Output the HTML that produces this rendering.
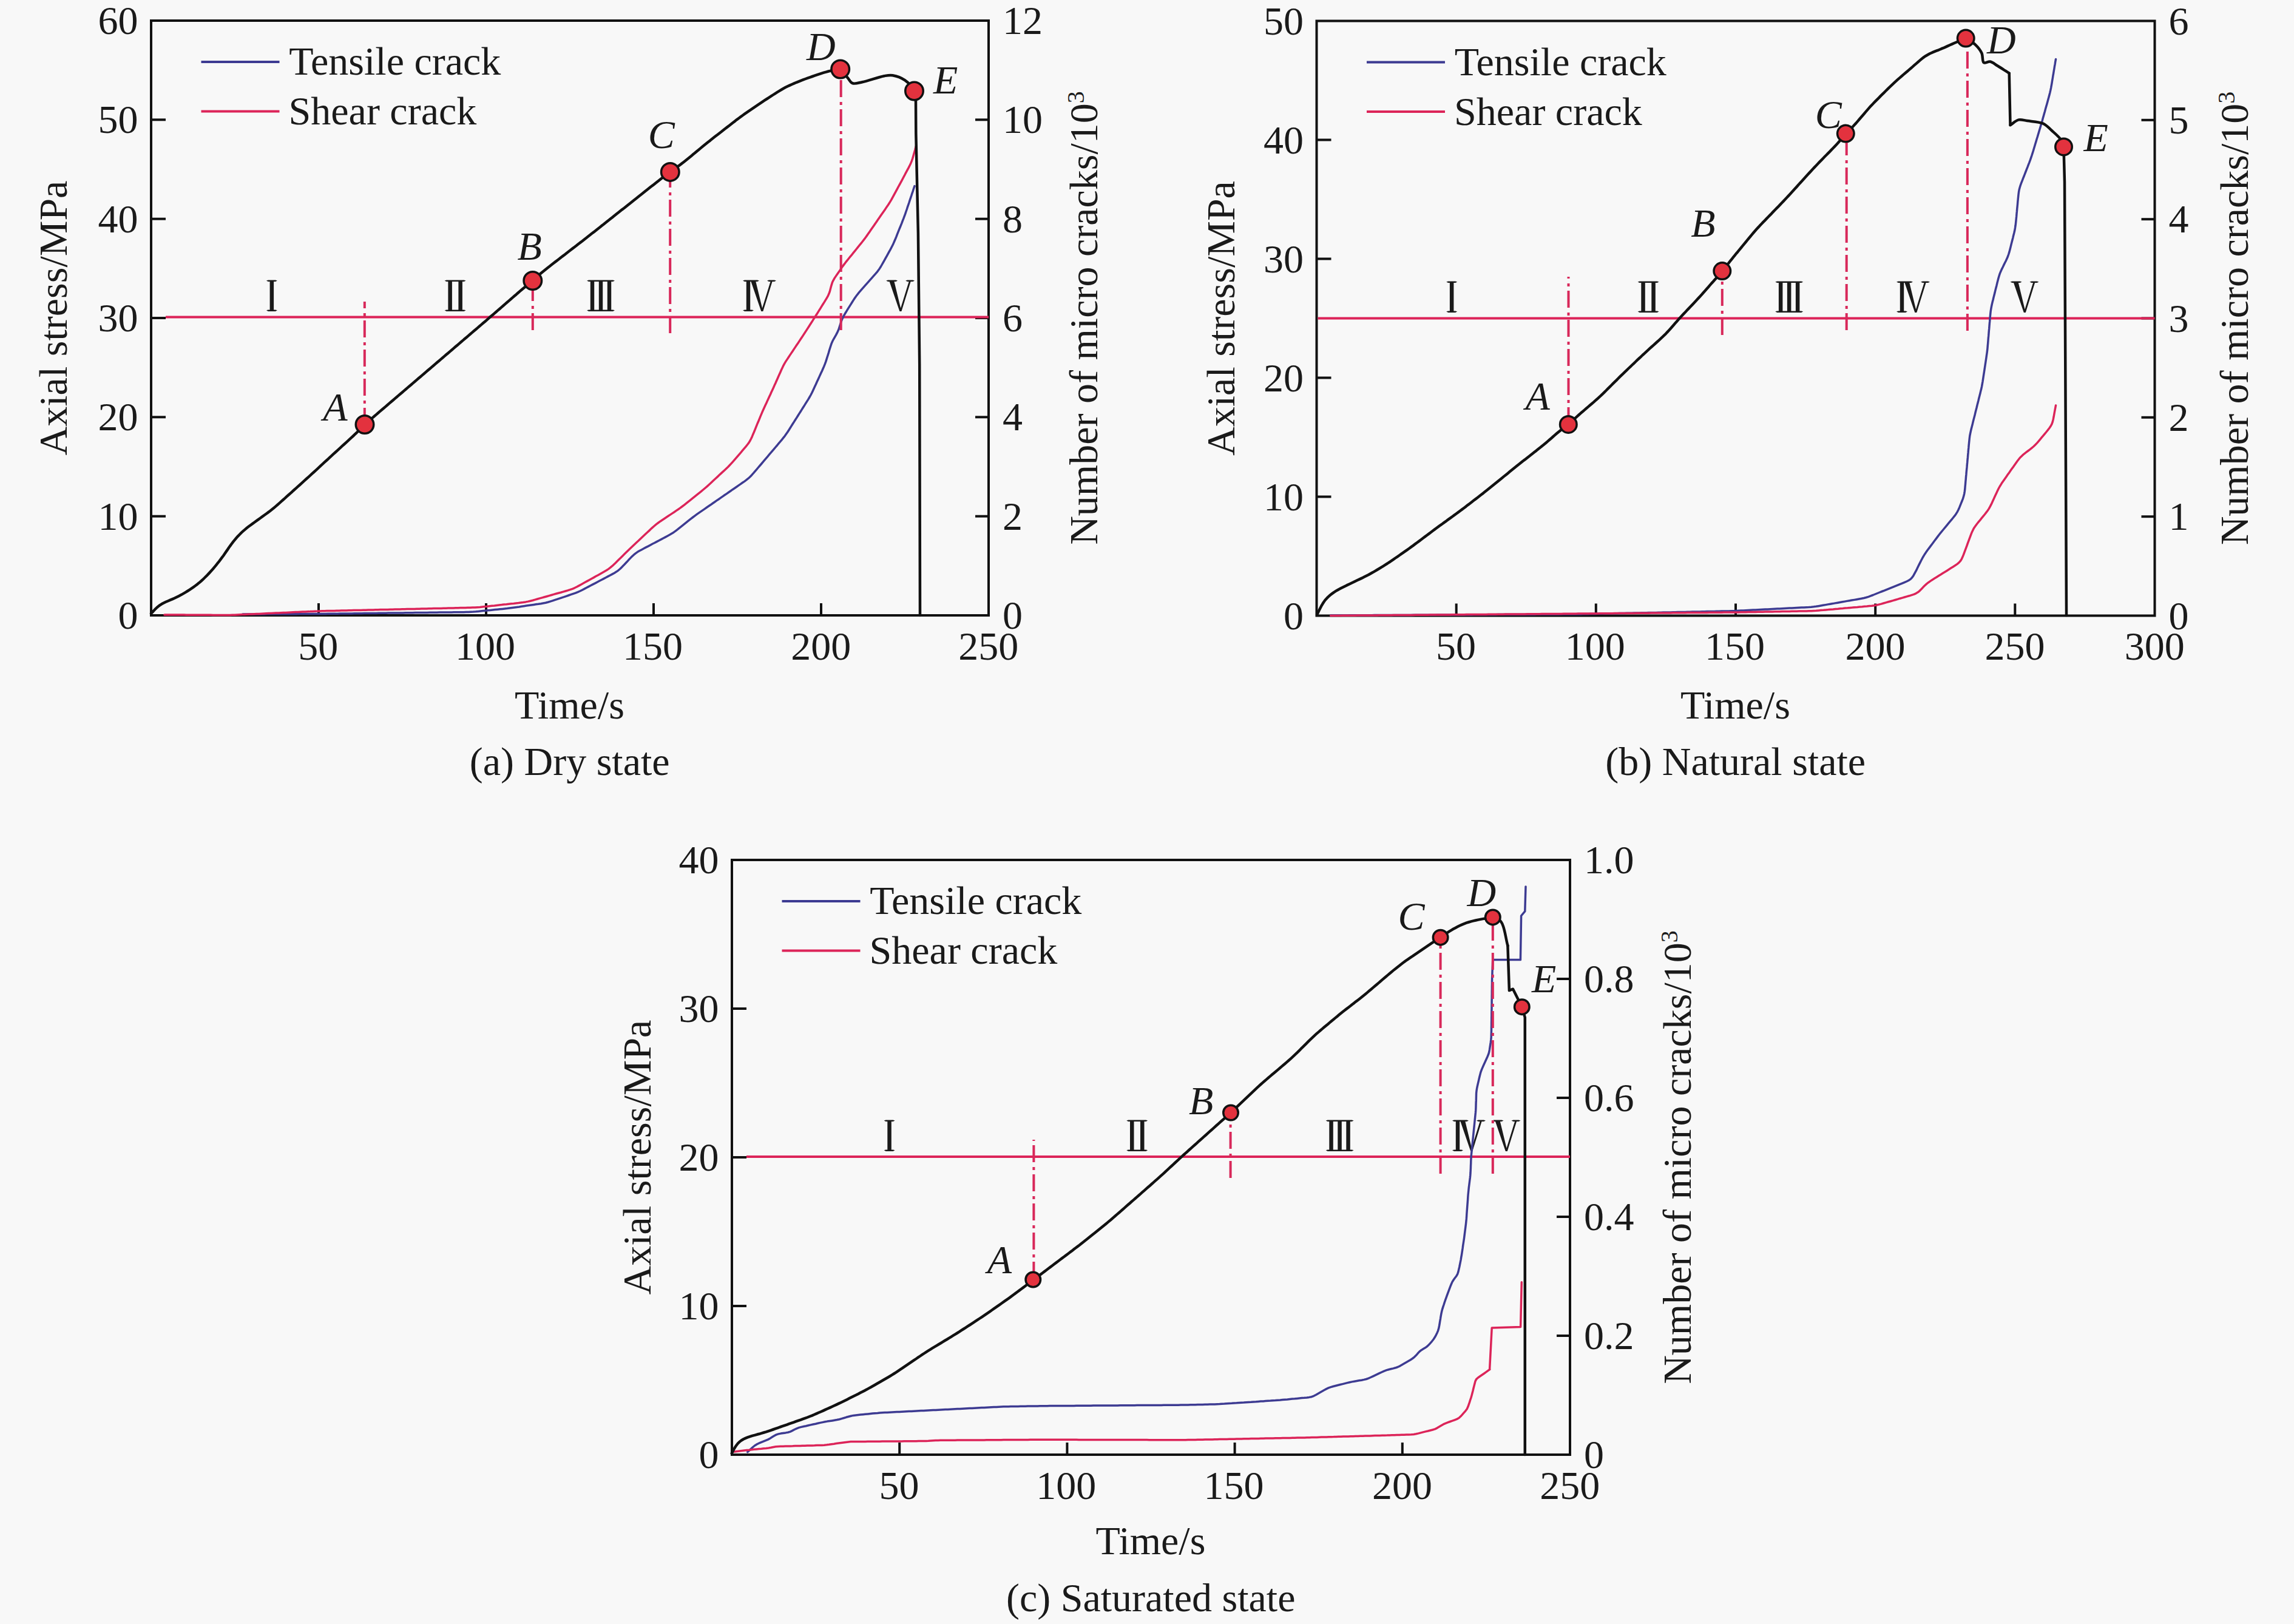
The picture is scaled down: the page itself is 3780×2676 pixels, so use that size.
<!DOCTYPE html><html><head><meta charset="utf-8"><style>html,body{margin:0;padding:0;background:#f8f8f8;}svg{display:block}text{font-family:"Liberation Serif",serif;fill:#1a1a1a}</style></head><body>
<svg width="3780" height="2676" viewBox="0 0 3780 2676">
<rect width="3780" height="2676" fill="#f8f8f8"/>
<rect x="249" y="34" width="1380" height="980" fill="none" stroke="#111111" stroke-width="4"/>
<text x="194.5" y="1036.0" font-size="66" text-anchor="start">0</text>
<line x1="249" y1="850.7" x2="273" y2="850.7" stroke="#111111" stroke-width="4"/>
<text x="161.5" y="872.7" font-size="66" text-anchor="start">10</text>
<line x1="249" y1="687.3" x2="273" y2="687.3" stroke="#111111" stroke-width="4"/>
<text x="161.5" y="709.3" font-size="66" text-anchor="start">20</text>
<line x1="249" y1="524.0" x2="273" y2="524.0" stroke="#111111" stroke-width="4"/>
<text x="161.5" y="546.0" font-size="66" text-anchor="start">30</text>
<line x1="249" y1="360.7" x2="273" y2="360.7" stroke="#111111" stroke-width="4"/>
<text x="161.5" y="382.7" font-size="66" text-anchor="start">40</text>
<line x1="249" y1="197.3" x2="273" y2="197.3" stroke="#111111" stroke-width="4"/>
<text x="161.5" y="219.3" font-size="66" text-anchor="start">50</text>
<text x="161.5" y="56.0" font-size="66" text-anchor="start">60</text>
<text x="1652.0" y="1036.0" font-size="66" text-anchor="start">0</text>
<line x1="1629" y1="850.7" x2="1607" y2="850.7" stroke="#111111" stroke-width="4"/>
<text x="1652.0" y="872.7" font-size="66" text-anchor="start">2</text>
<line x1="1629" y1="687.3" x2="1607" y2="687.3" stroke="#111111" stroke-width="4"/>
<text x="1652.0" y="709.3" font-size="66" text-anchor="start">4</text>
<line x1="1629" y1="524.0" x2="1607" y2="524.0" stroke="#111111" stroke-width="4"/>
<text x="1652.0" y="546.0" font-size="66" text-anchor="start">6</text>
<line x1="1629" y1="360.7" x2="1607" y2="360.7" stroke="#111111" stroke-width="4"/>
<text x="1652.0" y="382.7" font-size="66" text-anchor="start">8</text>
<line x1="1629" y1="197.3" x2="1607" y2="197.3" stroke="#111111" stroke-width="4"/>
<text x="1652.0" y="219.3" font-size="66" text-anchor="start">10</text>
<text x="1652.0" y="56.0" font-size="66" text-anchor="start">12</text>
<line x1="525.0" y1="1014" x2="525.0" y2="994" stroke="#111111" stroke-width="4"/>
<text x="491.3" y="1086.5" font-size="66" text-anchor="start">50</text>
<line x1="801.0" y1="1014" x2="801.0" y2="994" stroke="#111111" stroke-width="4"/>
<text x="749.9" y="1086.5" font-size="66" text-anchor="start">100</text>
<line x1="1077.0" y1="1014" x2="1077.0" y2="994" stroke="#111111" stroke-width="4"/>
<text x="1025.9" y="1086.5" font-size="66" text-anchor="start">150</text>
<line x1="1353.0" y1="1014" x2="1353.0" y2="994" stroke="#111111" stroke-width="4"/>
<text x="1303.3" y="1086.5" font-size="66" text-anchor="start">200</text>
<text x="1579.3" y="1086.5" font-size="66" text-anchor="start">250</text>
<text x="847.9" y="1183.5" font-size="66" text-anchor="start">Time/s</text>
<text x="773.8" y="1277.2" font-size="66" text-anchor="start">(a) Dry state</text>
<text transform="translate(110.0,524.0) rotate(-90)" x="0" y="0" font-size="66" text-anchor="middle">Axial stress/MPa</text>
<text transform="translate(1807.7,524.0) rotate(-90)" x="0" y="0" font-size="66" text-anchor="middle">Number of micro cracks/10<tspan font-size="40" dy="-22">3</tspan></text>
<line x1="331.5" y1="102" x2="460.5" y2="102" stroke="#3d3b92" stroke-width="4"/>
<line x1="331.5" y1="183.5" x2="460.5" y2="183.5" stroke="#dc2459" stroke-width="4"/>
<text x="476.3" y="123.0" font-size="66" text-anchor="start">Tensile crack</text>
<text x="475.6" y="205.0" font-size="66" text-anchor="start">Shear crack</text>
<line x1="273" y1="522.5" x2="1629" y2="522.5" stroke="#dc2459" stroke-width="4"/>
<path d="M444.6,464.1H451.1V510.4H444.6ZM438.9,462.4L441.9,461.5H453.9L456.9,462.4L453.9,464.1H441.9ZM438.9,511.3L441.9,510.4H453.9L456.9,511.3L453.9,513.0H441.9Z" fill="#1a1a1a"/>
<path d="M738.4,464.1H744.9V510.4H738.4ZM755.4,464.1H761.9V510.4H755.4ZM732.6,462.4L735.6,461.5H764.6L767.6,462.4L764.6,464.1H735.6ZM732.6,511.3L735.6,510.4H764.6L767.6,511.3L764.6,513.0H735.6Z" fill="#1a1a1a"/>
<path d="M972.8,464.1H979.2V510.4H972.8ZM986.8,464.1H993.2V510.4H986.8ZM1000.8,464.1H1007.2V510.4H1000.8ZM967.0,462.4L970.0,461.5H1010.0L1013.0,462.4L1010.0,464.1H970.0ZM967.0,511.3L970.0,510.4H1010.0L1013.0,511.3L1010.0,513.0H970.0Z" fill="#1a1a1a"/>
<path d="M1229.8,464.1H1236.2V510.4H1229.8ZM1224.0,511.3L1227.0,510.4H1239.0L1242.0,511.3L1239.0,513.0H1227.0ZM1224.0,462.4L1227.0,461.5H1239.0L1242.0,462.4L1239.0,464.1H1227.0ZM1237.0,462.5L1245.0,462.5L1257.3,513.0L1254.3,513.0ZM1270.0,462.5L1273.0,462.5L1257.3,513.0L1255.3,510.0ZM1232.0,462.4L1235.0,461.5H1248.0L1251.0,462.4L1248.0,464.1H1235.0ZM1264.0,462.4L1267.0,461.5H1276.0L1279.0,462.4L1276.0,464.1H1267.0Z" fill="#1a1a1a"/>
<path d="M1465.1,462.5L1473.1,462.5L1485.4,513.0L1482.4,513.0ZM1498.1,462.5L1501.1,462.5L1485.4,513.0L1483.4,510.0ZM1460.1,462.4L1463.1,461.5H1476.1L1479.1,462.4L1476.1,464.1H1463.1ZM1492.1,462.4L1495.1,461.5H1504.1L1507.1,462.4L1504.1,464.1H1495.1Z" fill="#1a1a1a"/>
<path d="M400.0,1012.0 L404.0,1012.0 L408.0,1012.0 L412.0,1012.0 L416.0,1011.9 L420.0,1011.9 L424.0,1011.9 L428.0,1011.9 L432.0,1011.9 L436.0,1011.9 L440.0,1011.8 L444.0,1011.8 L448.0,1011.8 L452.0,1011.8 L456.0,1011.8 L460.0,1011.8 L464.0,1011.7 L468.0,1011.7 L472.0,1011.7 L476.0,1011.7 L480.0,1011.7 L484.0,1011.7 L488.0,1011.7 L492.0,1011.6 L496.0,1011.6 L500.0,1011.6 L504.0,1011.6 L508.0,1011.6 L512.0,1011.6 L516.0,1011.5 L520.0,1011.5 L524.0,1011.5 L528.0,1011.5 L532.0,1011.4 L536.0,1011.4 L540.0,1011.3 L544.0,1011.3 L548.0,1011.2 L552.0,1011.2 L556.0,1011.2 L560.0,1011.1 L564.0,1011.1 L568.0,1011.0 L572.0,1011.0 L576.0,1010.9 L580.0,1010.9 L584.0,1010.8 L588.0,1010.8 L592.0,1010.7 L596.0,1010.7 L600.0,1010.6 L604.0,1010.6 L608.0,1010.5 L612.0,1010.5 L616.0,1010.4 L620.0,1010.4 L624.0,1010.3 L628.0,1010.3 L632.0,1010.2 L636.0,1010.2 L640.0,1010.1 L644.0,1010.1 L648.0,1010.0 L652.0,1010.0 L656.0,1010.0 L660.0,1009.9 L664.0,1009.9 L668.0,1009.8 L672.0,1009.8 L676.0,1009.7 L680.0,1009.7 L684.0,1009.6 L688.0,1009.6 L692.0,1009.5 L696.0,1009.5 L700.0,1009.4 L704.0,1009.4 L708.0,1009.3 L712.0,1009.3 L716.0,1009.2 L720.0,1009.2 L724.0,1009.1 L728.0,1009.1 L732.0,1009.0 L736.0,1009.0 L740.0,1008.9 L744.0,1008.9 L748.0,1008.8 L752.0,1008.8 L756.0,1008.8 L760.0,1008.7 L764.0,1008.7 L768.0,1008.6 L772.0,1008.5 L776.0,1008.3 L780.0,1008.1 L783.9,1007.8 L787.9,1007.4 L791.9,1007.0 L795.9,1006.6 L799.9,1006.2 L803.8,1005.8 L807.8,1005.4 L811.8,1005.0 L815.8,1004.6 L819.8,1004.2 L823.7,1003.8 L827.7,1003.4 L831.7,1003.0 L835.7,1002.6 L839.7,1002.1 L843.6,1001.6 L847.6,1001.0 L851.5,1000.4 L855.5,999.9 L859.5,999.3 L863.4,998.7 L867.4,998.1 L871.3,997.6 L875.3,997.0 L879.2,996.4 L883.2,995.8 L887.2,995.3 L891.1,994.7 L895.0,994.0 L899.0,993.2 L902.8,992.2 L906.6,991.1 L910.5,989.9 L914.2,988.6 L918.0,987.4 L921.8,986.1 L925.6,984.8 L929.4,983.6 L933.2,982.3 L937.0,981.0 L940.8,979.7 L944.6,978.4 L948.3,977.1 L952.0,975.6 L955.7,974.0 L959.3,972.2 L962.8,970.4 L966.3,968.5 L969.9,966.6 L973.4,964.8 L977.0,962.9 L980.5,961.1 L984.0,959.2 L987.6,957.3 L991.1,955.5 L994.7,953.6 L998.2,951.7 L1001.7,949.9 L1005.3,948.0 L1008.8,946.1 L1012.3,944.2 L1015.7,942.1 L1018.9,939.8 L1021.9,937.2 L1024.7,934.4 L1027.5,931.6 L1030.2,928.7 L1033.0,925.8 L1035.7,922.8 L1038.5,919.9 L1041.3,917.1 L1044.1,914.4 L1047.2,911.9 L1050.4,909.6 L1053.9,907.6 L1057.4,905.7 L1060.9,903.8 L1064.4,901.9 L1068.0,900.1 L1071.5,898.2 L1075.0,896.3 L1078.6,894.5 L1082.1,892.6 L1085.7,890.7 L1089.2,888.9 L1092.7,887.0 L1096.3,885.1 L1099.8,883.2 L1103.3,881.3 L1106.7,879.3 L1110.1,877.2 L1113.3,874.8 L1116.5,872.4 L1119.6,869.9 L1122.8,867.4 L1125.9,864.9 L1129.0,862.4 L1132.1,859.9 L1135.2,857.4 L1138.4,854.9 L1141.5,852.5 L1144.7,850.1 L1148.0,847.7 L1151.2,845.4 L1154.5,843.1 L1157.8,840.9 L1161.1,838.6 L1164.4,836.3 L1167.7,834.0 L1171.0,831.8 L1174.2,829.5 L1177.5,827.2 L1180.8,824.9 L1184.1,822.7 L1187.4,820.4 L1190.7,818.1 L1194.0,815.8 L1197.3,813.6 L1200.6,811.3 L1203.9,809.0 L1207.1,806.7 L1210.4,804.5 L1213.7,802.2 L1217.0,799.9 L1220.3,797.6 L1223.6,795.3 L1226.9,793.1 L1230.1,790.7 L1233.2,788.2 L1236.1,785.5 L1238.8,782.7 L1241.5,779.7 L1244.1,776.6 L1246.7,773.6 L1249.3,770.5 L1251.9,767.5 L1254.5,764.5 L1257.1,761.4 L1259.6,758.4 L1262.2,755.3 L1264.8,752.3 L1267.4,749.2 L1270.0,746.2 L1272.6,743.1 L1275.2,740.1 L1277.8,737.0 L1280.4,734.0 L1282.9,730.9 L1285.5,727.9 L1288.1,724.8 L1290.6,721.7 L1293.1,718.6 L1295.4,715.3 L1297.7,712.0 L1299.8,708.7 L1302.0,705.3 L1304.1,701.9 L1306.2,698.5 L1308.4,695.1 L1310.5,691.8 L1312.7,688.4 L1314.8,685.0 L1316.9,681.6 L1319.1,678.2 L1321.2,674.9 L1323.3,671.5 L1325.5,668.1 L1327.6,664.7 L1329.7,661.3 L1331.9,657.9 L1333.9,654.5 L1335.9,651.0 L1337.7,647.5 L1339.4,643.9 L1341.1,640.2 L1342.8,636.6 L1344.5,633.0 L1346.1,629.3 L1347.8,625.7 L1349.5,622.1 L1351.1,618.4 L1352.8,614.8 L1354.5,611.2 L1356.1,607.5 L1357.7,603.9 L1359.2,600.2 L1360.6,596.4 L1361.8,592.6 L1363.0,588.8 L1364.2,585.0 L1365.4,581.2 L1366.5,577.3 L1367.7,573.5 L1368.9,569.7 L1370.2,565.9 L1371.8,562.3 L1373.6,558.8 L1375.6,555.3 L1377.6,551.9 L1379.4,548.4 L1381.1,544.8 L1382.5,541.1 L1383.7,537.3 L1384.9,533.5 L1386.2,529.7 L1387.6,526.0 L1389.3,522.4 L1391.2,518.9 L1393.2,515.5 L1395.3,512.1 L1397.4,508.7 L1399.5,505.3 L1401.7,501.9 L1403.8,498.5 L1405.9,495.1 L1408.1,491.8 L1410.4,488.5 L1412.8,485.3 L1415.3,482.2 L1417.9,479.2 L1420.5,476.2 L1423.2,473.2 L1425.8,470.2 L1428.5,467.2 L1431.2,464.2 L1433.8,461.2 L1436.5,458.2 L1439.1,455.2 L1441.8,452.2 L1444.4,449.2 L1446.8,446.1 L1449.1,442.9 L1451.3,439.5 L1453.3,436.0 L1455.2,432.6 L1457.2,429.1 L1459.1,425.6 L1461.1,422.1 L1463.0,418.6 L1464.9,415.1 L1466.9,411.6 L1468.8,408.0 L1470.6,404.5 L1472.3,400.9 L1473.9,397.2 L1475.5,393.5 L1477.0,389.8 L1478.4,386.1 L1479.9,382.4 L1481.4,378.7 L1482.9,375.0 L1484.4,371.3 L1485.9,367.6 L1487.3,363.8 L1488.8,360.1 L1490.2,356.4 L1491.6,352.6 L1492.9,348.8 L1494.2,345.0 L1495.4,341.2 L1496.7,337.5 L1498.0,333.7 L1499.2,329.9 L1500.5,326.1 L1501.8,322.3 L1503.0,318.5 L1504.3,314.8 L1505.4,311.3 L1506.5,308.1 L1507.0,306.6" fill="none" stroke="#3d3b92" stroke-width="3.5" stroke-linejoin="round" stroke-linecap="round"/>
<path d="M271.0,1013.0 L275.0,1013.0 L279.0,1013.0 L283.0,1013.1 L287.0,1013.1 L291.0,1013.1 L295.0,1013.1 L299.0,1013.1 L303.0,1013.1 L307.0,1013.2 L311.0,1013.2 L315.0,1013.2 L319.0,1013.2 L323.0,1013.2 L327.0,1013.3 L331.0,1013.3 L335.0,1013.3 L339.0,1013.3 L343.0,1013.3 L347.0,1013.3 L351.0,1013.4 L355.0,1013.4 L359.0,1013.4 L363.0,1013.4 L367.0,1013.4 L371.0,1013.4 L375.0,1013.4 L379.0,1013.4 L383.0,1013.3 L387.0,1013.2 L391.0,1013.0 L395.0,1012.8 L399.0,1012.6 L403.0,1012.5 L407.0,1012.3 L411.0,1012.1 L415.0,1011.9 L419.0,1011.7 L423.0,1011.5 L427.0,1011.4 L430.9,1011.2 L434.9,1011.0 L438.9,1010.8 L442.9,1010.6 L446.9,1010.5 L450.9,1010.3 L454.9,1010.1 L458.9,1009.9 L462.9,1009.7 L466.9,1009.5 L470.9,1009.4 L474.9,1009.2 L478.9,1009.0 L482.9,1008.8 L486.9,1008.6 L490.9,1008.5 L494.9,1008.3 L498.9,1008.1 L502.9,1007.9 L506.9,1007.7 L510.9,1007.6 L514.9,1007.4 L518.9,1007.2 L522.9,1007.1 L526.9,1006.9 L530.8,1006.8 L534.8,1006.7 L538.8,1006.6 L542.8,1006.5 L546.8,1006.5 L550.8,1006.4 L554.8,1006.3 L558.8,1006.2 L562.8,1006.1 L566.8,1006.0 L570.8,1005.9 L574.8,1005.8 L578.8,1005.7 L582.8,1005.6 L586.8,1005.5 L590.8,1005.5 L594.8,1005.4 L598.8,1005.3 L602.8,1005.2 L606.8,1005.1 L610.8,1005.0 L614.8,1004.9 L618.8,1004.8 L622.8,1004.7 L626.8,1004.6 L630.8,1004.5 L634.8,1004.4 L638.8,1004.4 L642.8,1004.3 L646.8,1004.2 L650.8,1004.1 L654.8,1004.0 L658.8,1003.9 L662.8,1003.8 L666.8,1003.7 L670.8,1003.6 L674.8,1003.5 L678.8,1003.4 L682.8,1003.4 L686.8,1003.3 L690.8,1003.2 L694.8,1003.1 L698.8,1003.0 L702.8,1002.9 L706.8,1002.8 L710.8,1002.7 L714.8,1002.6 L718.8,1002.5 L722.8,1002.4 L726.8,1002.4 L730.8,1002.3 L734.8,1002.2 L738.8,1002.1 L742.8,1002.0 L746.8,1001.9 L750.8,1001.8 L754.8,1001.7 L758.8,1001.6 L762.8,1001.5 L766.8,1001.4 L770.8,1001.3 L774.8,1001.2 L778.8,1001.1 L782.8,1001.0 L786.8,1000.7 L790.8,1000.4 L794.7,1000.0 L798.7,999.6 L802.7,999.2 L806.7,998.7 L810.6,998.3 L814.6,997.9 L818.6,997.4 L822.6,997.0 L826.5,996.6 L830.5,996.1 L834.5,995.7 L838.5,995.2 L842.4,994.8 L846.4,994.4 L850.4,993.9 L854.4,993.5 L858.3,993.0 L862.3,992.5 L866.2,991.9 L870.2,991.1 L874.0,990.2 L877.9,989.2 L881.8,988.1 L885.6,987.0 L889.5,985.9 L893.3,984.9 L897.2,983.8 L901.0,982.7 L904.8,981.6 L908.7,980.5 L912.5,979.4 L916.4,978.3 L920.2,977.2 L924.1,976.2 L927.9,975.1 L931.8,974.0 L935.6,972.9 L939.4,971.7 L943.2,970.3 L946.8,968.8 L950.4,967.0 L953.9,965.1 L957.4,963.2 L960.9,961.3 L964.4,959.3 L967.9,957.4 L971.4,955.4 L974.9,953.5 L978.4,951.6 L981.9,949.6 L985.4,947.7 L988.9,945.7 L992.4,943.8 L995.9,941.8 L999.3,939.8 L1002.6,937.6 L1005.8,935.2 L1008.8,932.7 L1011.7,929.9 L1014.6,927.2 L1017.5,924.3 L1020.3,921.5 L1023.2,918.7 L1026.0,915.9 L1028.9,913.1 L1031.7,910.3 L1034.6,907.5 L1037.4,904.7 L1040.3,902.0 L1043.2,899.2 L1046.1,896.4 L1049.0,893.7 L1052.0,891.0 L1054.9,888.2 L1057.8,885.5 L1060.7,882.8 L1063.6,880.0 L1066.6,877.3 L1069.5,874.6 L1072.4,871.8 L1075.3,869.1 L1078.3,866.5 L1081.4,863.9 L1084.6,861.5 L1087.8,859.2 L1091.1,857.0 L1094.5,854.7 L1097.8,852.5 L1101.1,850.3 L1104.4,848.1 L1107.8,845.9 L1111.1,843.7 L1114.4,841.4 L1117.7,839.2 L1121.0,836.9 L1124.2,834.5 L1127.4,832.1 L1130.5,829.6 L1133.6,827.1 L1136.8,824.6 L1139.9,822.1 L1143.0,819.6 L1146.1,817.1 L1149.2,814.6 L1152.4,812.1 L1155.5,809.6 L1158.6,807.0 L1161.6,804.5 L1164.7,801.9 L1167.6,799.2 L1170.6,796.5 L1173.5,793.7 L1176.4,791.0 L1179.4,788.3 L1182.3,785.6 L1185.2,782.8 L1188.1,780.1 L1191.1,777.4 L1194.0,774.7 L1196.9,771.9 L1199.8,769.2 L1202.6,766.3 L1205.3,763.4 L1208.0,760.4 L1210.6,757.4 L1213.2,754.4 L1215.8,751.3 L1218.4,748.3 L1221.0,745.3 L1223.6,742.2 L1226.2,739.2 L1228.8,736.1 L1231.3,733.0 L1233.7,729.9 L1235.8,726.5 L1237.6,723.0 L1239.3,719.4 L1240.8,715.7 L1242.4,712.0 L1243.9,708.3 L1245.4,704.6 L1246.9,700.9 L1248.4,697.2 L1250.0,693.5 L1251.5,689.8 L1253.0,686.1 L1254.6,682.4 L1256.1,678.8 L1257.8,675.1 L1259.4,671.5 L1261.1,667.8 L1262.8,664.2 L1264.4,660.6 L1266.1,656.9 L1267.8,653.3 L1269.5,649.7 L1271.1,646.0 L1272.8,642.4 L1274.5,638.8 L1276.1,635.1 L1277.8,631.5 L1279.4,627.8 L1281.0,624.2 L1282.6,620.5 L1284.3,616.8 L1285.9,613.2 L1287.5,609.5 L1289.2,605.9 L1290.9,602.3 L1292.8,598.8 L1294.9,595.4 L1297.1,592.1 L1299.3,588.7 L1301.5,585.4 L1303.7,582.1 L1306.0,578.8 L1308.2,575.4 L1310.4,572.1 L1312.6,568.8 L1314.9,565.5 L1317.1,562.1 L1319.3,558.8 L1321.5,555.5 L1323.7,552.1 L1325.9,548.8 L1328.1,545.4 L1330.2,542.1 L1332.4,538.7 L1334.6,535.3 L1336.7,532.0 L1338.9,528.6 L1341.0,525.2 L1343.2,521.9 L1345.3,518.5 L1347.5,515.1 L1349.6,511.7 L1351.7,508.3 L1353.8,504.9 L1355.9,501.5 L1358.1,498.1 L1360.2,494.7 L1362.2,491.3 L1364.2,487.9 L1365.8,484.3 L1367.2,480.6 L1368.2,476.7 L1369.2,472.9 L1370.3,469.1 L1371.5,465.3 L1373.2,461.8 L1375.1,458.4 L1377.3,455.1 L1379.6,451.8 L1381.9,448.5 L1384.2,445.2 L1386.4,441.9 L1388.7,438.6 L1391.1,435.4 L1393.5,432.2 L1396.0,429.1 L1398.5,426.0 L1401.0,422.9 L1403.6,419.8 L1406.1,416.7 L1408.6,413.6 L1411.1,410.5 L1413.6,407.3 L1416.2,404.2 L1418.7,401.1 L1421.2,398.0 L1423.6,394.9 L1426.0,391.7 L1428.4,388.4 L1430.7,385.1 L1432.9,381.9 L1435.2,378.6 L1437.5,375.3 L1439.8,372.0 L1442.0,368.7 L1444.3,365.4 L1446.6,362.1 L1448.9,358.8 L1451.1,355.5 L1453.4,352.2 L1455.7,349.0 L1458.0,345.7 L1460.2,342.4 L1462.5,339.1 L1464.7,335.7 L1466.8,332.4 L1468.9,328.9 L1470.8,325.4 L1472.7,321.9 L1474.6,318.4 L1476.5,314.9 L1478.4,311.4 L1480.3,307.8 L1482.2,304.3 L1484.1,300.8 L1486.0,297.3 L1487.9,293.7 L1489.8,290.2 L1491.6,286.7 L1493.5,283.2 L1495.4,279.6 L1497.3,276.1 L1499.1,272.5 L1500.8,268.9 L1502.3,265.3 L1503.6,261.5 L1504.7,257.7 L1505.8,253.8 L1506.9,250.0 L1507.9,246.4 L1508.8,242.8 L1509.3,241.1" fill="none" stroke="#dc2459" stroke-width="3.5" stroke-linejoin="round" stroke-linecap="round"/>
<line x1="600.8" y1="700.0" x2="600.8" y2="497.0" stroke="#d8285a" stroke-width="4" stroke-dasharray="28,7,5,8"/>
<line x1="877.8" y1="544.0" x2="877.8" y2="462.0" stroke="#d8285a" stroke-width="4" stroke-dasharray="28,7,5,8"/>
<line x1="1104.2" y1="549.0" x2="1104.2" y2="283.0" stroke="#d8285a" stroke-width="4" stroke-dasharray="28,7,5,8"/>
<line x1="1385.7" y1="544.0" x2="1385.7" y2="116.0" stroke="#d8285a" stroke-width="4" stroke-dasharray="28,7,5,8"/>
<path d="M249.0,1011.0 L251.7,1008.1 L254.4,1005.2 L257.2,1002.4 L260.1,999.8 L263.2,997.4 L266.4,995.3 L269.8,993.5 L273.3,991.8 L277.0,990.2 L280.6,988.7 L284.3,987.1 L287.9,985.5 L291.5,983.7 L295.1,981.9 L298.6,980.1 L302.1,978.1 L305.5,976.1 L308.9,974.0 L312.3,971.8 L315.6,969.6 L318.9,967.3 L322.1,965.0 L325.3,962.6 L328.4,960.1 L331.4,957.5 L334.3,954.8 L337.2,952.0 L340.1,949.2 L342.8,946.4 L345.6,943.4 L348.2,940.5 L350.9,937.5 L353.5,934.4 L356.0,931.3 L358.5,928.2 L361.0,925.1 L363.4,921.9 L365.8,918.7 L368.2,915.5 L370.4,912.2 L372.7,908.9 L375.0,905.6 L377.2,902.3 L379.5,899.1 L381.9,895.8 L384.3,892.7 L386.8,889.6 L389.4,886.5 L392.0,883.6 L394.8,880.7 L397.6,877.9 L400.6,875.2 L403.6,872.6 L406.6,870.1 L409.8,867.6 L413.0,865.2 L416.2,862.9 L419.5,860.5 L422.7,858.2 L425.9,855.9 L429.2,853.5 L432.4,851.2 L435.7,848.8 L438.9,846.5 L442.1,844.1 L445.3,841.7 L448.4,839.2 L451.5,836.7 L454.6,834.1 L457.6,831.5 L460.6,828.9 L463.6,826.2 L466.6,823.5 L469.6,820.9 L472.5,818.2 L475.5,815.5 L478.5,812.8 L481.5,810.2 L484.4,807.5 L487.4,804.8 L490.4,802.1 L493.4,799.5 L496.3,796.8 L499.3,794.1 L502.3,791.4 L505.2,788.8 L508.2,786.1 L511.2,783.4 L514.1,780.7 L517.1,778.0 L520.0,775.3 L523.0,772.6 L525.9,769.9 L528.8,767.1 L531.8,764.4 L534.7,761.7 L537.7,759.0 L540.6,756.3 L543.5,753.6 L546.5,750.9 L549.4,748.2 L552.4,745.5 L555.3,742.8 L558.3,740.1 L561.3,737.4 L564.2,734.7 L567.2,732.0 L570.1,729.3 L573.1,726.6 L576.0,723.9 L579.0,721.2 L581.9,718.5 L584.8,715.7 L587.7,713.0 L590.5,710.2 L593.4,707.3 L596.2,704.5 L599.1,701.7 L602.0,699.0 L604.9,696.3 L607.9,693.6 L610.9,691.0 L613.9,688.3 L616.9,685.7 L620.0,683.1 L623.0,680.5 L626.0,677.9 L629.1,675.3 L632.1,672.7 L635.2,670.1 L638.2,667.5 L641.2,664.9 L644.3,662.3 L647.3,659.7 L650.3,657.1 L653.4,654.5 L656.4,651.9 L659.5,649.3 L662.5,646.7 L665.5,644.1 L668.6,641.5 L671.6,638.9 L674.7,636.3 L677.7,633.7 L680.7,631.1 L683.8,628.5 L686.8,625.9 L689.8,623.3 L692.9,620.7 L695.9,618.1 L699.0,615.5 L702.0,612.9 L705.0,610.3 L708.1,607.7 L711.1,605.1 L714.2,602.5 L717.2,599.9 L720.2,597.3 L723.3,594.7 L726.3,592.1 L729.4,589.5 L732.4,586.9 L735.4,584.3 L738.5,581.7 L741.5,579.1 L744.6,576.5 L747.6,573.9 L750.6,571.3 L753.7,568.7 L756.7,566.1 L759.7,563.5 L762.8,560.9 L765.8,558.3 L768.9,555.7 L771.9,553.1 L774.9,550.5 L778.0,547.9 L781.0,545.3 L784.1,542.7 L787.1,540.1 L790.1,537.5 L793.2,534.9 L796.2,532.3 L799.3,529.7 L802.3,527.1 L805.3,524.4 L808.3,521.8 L811.4,519.2 L814.4,516.6 L817.4,514.0 L820.4,511.4 L823.5,508.7 L826.5,506.1 L829.5,503.5 L832.5,500.9 L835.5,498.3 L838.6,495.6 L841.6,493.0 L844.6,490.4 L847.6,487.8 L850.7,485.2 L853.7,482.5 L856.7,479.9 L859.8,477.3 L862.8,474.7 L865.9,472.2 L868.9,469.6 L872.0,467.0 L875.0,464.4 L878.1,461.8 L881.1,459.2 L884.1,456.5 L887.1,453.9 L890.1,451.3 L893.2,448.7 L896.3,446.2 L899.4,443.7 L902.5,441.2 L905.7,438.7 L908.8,436.3 L912.0,433.8 L915.1,431.4 L918.3,428.9 L921.5,426.5 L924.6,424.0 L927.8,421.6 L931.0,419.2 L934.1,416.7 L937.3,414.3 L940.5,411.8 L943.6,409.4 L946.8,406.9 L950.0,404.5 L953.1,402.0 L956.3,399.6 L959.5,397.2 L962.6,394.7 L965.8,392.2 L968.9,389.8 L972.1,387.3 L975.2,384.8 L978.4,382.4 L981.5,379.9 L984.6,377.4 L987.8,374.9 L990.9,372.4 L994.1,370.0 L997.2,367.5 L1000.3,365.0 L1003.5,362.5 L1006.6,360.0 L1009.8,357.6 L1012.9,355.1 L1016.0,352.6 L1019.2,350.1 L1022.3,347.6 L1025.4,345.1 L1028.6,342.7 L1031.7,340.2 L1034.8,337.7 L1038.0,335.2 L1041.1,332.7 L1044.2,330.2 L1047.4,327.7 L1050.5,325.2 L1053.6,322.8 L1056.8,320.3 L1059.9,317.8 L1063.0,315.3 L1066.2,312.8 L1069.3,310.3 L1072.4,307.8 L1075.6,305.4 L1078.7,302.9 L1081.8,300.4 L1085.0,297.9 L1088.1,295.5 L1091.3,293.0 L1094.4,290.6 L1097.6,288.1 L1100.8,285.7 L1104.1,283.4 L1107.3,281.1 L1110.6,278.8 L1113.8,276.5 L1117.1,274.1 L1120.3,271.8 L1123.5,269.4 L1126.7,266.9 L1129.8,264.4 L1132.9,261.9 L1136.0,259.4 L1139.1,256.9 L1142.2,254.3 L1145.3,251.8 L1148.3,249.2 L1151.4,246.7 L1154.5,244.1 L1157.6,241.6 L1160.7,239.1 L1163.8,236.6 L1166.9,234.0 L1170.1,231.6 L1173.2,229.1 L1176.3,226.6 L1179.5,224.1 L1182.6,221.7 L1185.8,219.2 L1189.0,216.8 L1192.1,214.3 L1195.3,211.8 L1198.4,209.4 L1201.6,206.9 L1204.7,204.5 L1207.9,202.0 L1211.1,199.6 L1214.2,197.1 L1217.4,194.7 L1220.6,192.4 L1223.9,190.0 L1227.1,187.7 L1230.4,185.4 L1233.7,183.1 L1237.0,180.9 L1240.3,178.6 L1243.6,176.3 L1246.9,174.1 L1250.2,171.9 L1253.6,169.6 L1256.9,167.4 L1260.2,165.2 L1263.6,163.0 L1266.9,160.9 L1270.3,158.7 L1273.6,156.5 L1277.0,154.3 L1280.4,152.2 L1283.7,150.1 L1287.2,148.0 L1290.6,146.0 L1294.1,144.1 L1297.7,142.3 L1301.3,140.6 L1304.9,139.0 L1308.6,137.4 L1312.3,135.8 L1316.0,134.3 L1319.7,132.8 L1323.4,131.4 L1327.2,130.0 L1330.9,128.6 L1334.7,127.3 L1338.5,126.0 L1342.3,124.7 L1346.0,123.4 L1349.8,122.1 L1353.6,120.8 L1357.4,119.7 L1361.3,118.6 L1365.1,117.5 L1368.9,116.6 L1372.6,115.7 L1376.2,114.9 L1379.7,114.2 L1383.0,113.5 L1384.7,113.1" fill="none" stroke="#111111" stroke-width="4.5" stroke-linejoin="round" stroke-linecap="round"/>
<path d="M1384.7,113.1 C1388.7,118.1 1393.1,123.9 1396.8,128.2 C1399.7,131.6 1401.2,135.9 1404.8,137.2 C1408.9,138.8 1414.5,136.5 1420.8,135.2 C1430.5,133.3 1447.6,126.8 1456.9,125.2 C1462.6,124.2 1466.0,123.4 1471.0,124.2 C1477.2,125.2 1485.2,128.1 1491.0,132.2 C1497.0,136.4 1503.2,143.1 1506.1,149.2 C1508.7,154.5 1508.0,160.6 1509.0,166.3" fill="none" stroke="#111111" stroke-width="4.5" stroke-linejoin="round" stroke-linecap="round"/>
<path d="M1509.0,166.3 L1509.3,220.0 L1512.9,383.8 L1515.2,600.0 L1516.0,1014.0" fill="none" stroke="#111111" stroke-width="4.5" stroke-linejoin="round" stroke-linecap="round"/>
<circle cx="601.0" cy="699.5" r="14.75" fill="#e3323e" stroke="#111111" stroke-width="3.5"/>
<circle cx="877.8" cy="462.5" r="14.75" fill="#e3323e" stroke="#111111" stroke-width="3.5"/>
<circle cx="1104.3" cy="283.4" r="14.75" fill="#e3323e" stroke="#111111" stroke-width="3.5"/>
<circle cx="1384.7" cy="114.0" r="14.75" fill="#e3323e" stroke="#111111" stroke-width="3.5"/>
<circle cx="1506.5" cy="150.0" r="14.75" fill="#e3323e" stroke="#111111" stroke-width="3.5"/>
<text x="532.3" y="692.5" font-size="66" text-anchor="start" font-style="italic">A</text>
<text x="852.4" y="428.3" font-size="66" text-anchor="start" font-style="italic">B</text>
<text x="1067.8" y="244.1" font-size="66" text-anchor="start" font-style="italic">C</text>
<text x="1329.0" y="98.7" font-size="66" text-anchor="start" font-style="italic">D</text>
<text x="1538.0" y="154.2" font-size="66" text-anchor="start" font-style="italic">E</text>
<rect x="2169.5" y="34.5" width="1381.0" height="980.0" fill="none" stroke="#111111" stroke-width="4"/>
<text x="2115.0" y="1036.5" font-size="66" text-anchor="start">0</text>
<line x1="2169.5" y1="818.5" x2="2193.5" y2="818.5" stroke="#111111" stroke-width="4"/>
<text x="2082.0" y="840.5" font-size="66" text-anchor="start">10</text>
<line x1="2169.5" y1="622.5" x2="2193.5" y2="622.5" stroke="#111111" stroke-width="4"/>
<text x="2082.0" y="644.5" font-size="66" text-anchor="start">20</text>
<line x1="2169.5" y1="426.5" x2="2193.5" y2="426.5" stroke="#111111" stroke-width="4"/>
<text x="2082.0" y="448.5" font-size="66" text-anchor="start">30</text>
<line x1="2169.5" y1="230.5" x2="2193.5" y2="230.5" stroke="#111111" stroke-width="4"/>
<text x="2082.0" y="252.5" font-size="66" text-anchor="start">40</text>
<text x="2082.0" y="56.5" font-size="66" text-anchor="start">50</text>
<text x="3573.5" y="1036.5" font-size="66" text-anchor="start">0</text>
<line x1="3550.5" y1="851.2" x2="3528.5" y2="851.2" stroke="#111111" stroke-width="4"/>
<text x="3573.5" y="873.2" font-size="66" text-anchor="start">1</text>
<line x1="3550.5" y1="687.8" x2="3528.5" y2="687.8" stroke="#111111" stroke-width="4"/>
<text x="3573.5" y="709.8" font-size="66" text-anchor="start">2</text>
<line x1="3550.5" y1="524.5" x2="3528.5" y2="524.5" stroke="#111111" stroke-width="4"/>
<text x="3573.5" y="546.5" font-size="66" text-anchor="start">3</text>
<line x1="3550.5" y1="361.2" x2="3528.5" y2="361.2" stroke="#111111" stroke-width="4"/>
<text x="3573.5" y="383.2" font-size="66" text-anchor="start">4</text>
<line x1="3550.5" y1="197.8" x2="3528.5" y2="197.8" stroke="#111111" stroke-width="4"/>
<text x="3573.5" y="219.8" font-size="66" text-anchor="start">5</text>
<text x="3573.5" y="56.5" font-size="66" text-anchor="start">6</text>
<line x1="2399.7" y1="1014.5" x2="2399.7" y2="994.5" stroke="#111111" stroke-width="4"/>
<text x="2366.0" y="1087.0" font-size="66" text-anchor="start">50</text>
<line x1="2629.8" y1="1014.5" x2="2629.8" y2="994.5" stroke="#111111" stroke-width="4"/>
<text x="2578.7" y="1087.0" font-size="66" text-anchor="start">100</text>
<line x1="2860.0" y1="1014.5" x2="2860.0" y2="994.5" stroke="#111111" stroke-width="4"/>
<text x="2808.9" y="1087.0" font-size="66" text-anchor="start">150</text>
<line x1="3090.2" y1="1014.5" x2="3090.2" y2="994.5" stroke="#111111" stroke-width="4"/>
<text x="3040.5" y="1087.0" font-size="66" text-anchor="start">200</text>
<line x1="3320.3" y1="1014.5" x2="3320.3" y2="994.5" stroke="#111111" stroke-width="4"/>
<text x="3270.6" y="1087.0" font-size="66" text-anchor="start">250</text>
<text x="3500.7" y="1087.0" font-size="66" text-anchor="start">300</text>
<text x="2768.9" y="1183.5" font-size="66" text-anchor="start">Time/s</text>
<text x="2645.3" y="1277.2" font-size="66" text-anchor="start">(b) Natural state</text>
<text transform="translate(2033.7,524.5) rotate(-90)" x="0" y="0" font-size="66" text-anchor="middle">Axial stress/MPa</text>
<text transform="translate(3703.6,524.5) rotate(-90)" x="0" y="0" font-size="66" text-anchor="middle">Number of micro cracks/10<tspan font-size="40" dy="-22">3</tspan></text>
<line x1="2252.0" y1="102.5" x2="2381.0" y2="102.5" stroke="#3d3b92" stroke-width="4"/>
<line x1="2252.0" y1="184.0" x2="2381.0" y2="184.0" stroke="#dc2459" stroke-width="4"/>
<text x="2396.8" y="123.5" font-size="66" text-anchor="start">Tensile crack</text>
<text x="2396.1" y="205.5" font-size="66" text-anchor="start">Shear crack</text>
<line x1="2171.5" y1="524.5" x2="3550.5" y2="524.5" stroke="#dc2459" stroke-width="4"/>
<path d="M2388.9,466.1H2395.4V512.4H2388.9ZM2383.2,464.4L2386.2,463.5H2398.2L2401.2,464.4L2398.2,466.1H2386.2ZM2383.2,513.3L2386.2,512.4H2398.2L2401.2,513.3L2398.2,515.0H2386.2Z" fill="#1a1a1a"/>
<path d="M2704.3,466.1H2710.8V512.4H2704.3ZM2721.3,466.1H2727.8V512.4H2721.3ZM2698.6,464.4L2701.6,463.5H2730.6L2733.6,464.4L2730.6,466.1H2701.6ZM2698.6,513.3L2701.6,512.4H2730.6L2733.6,513.3L2730.6,515.0H2701.6Z" fill="#1a1a1a"/>
<path d="M2930.9,466.1H2937.4V512.4H2930.9ZM2944.9,466.1H2951.4V512.4H2944.9ZM2958.9,466.1H2965.4V512.4H2958.9ZM2925.2,464.4L2928.2,463.5H2968.2L2971.2,464.4L2968.2,466.1H2928.2ZM2925.2,513.3L2928.2,512.4H2968.2L2971.2,513.3L2968.2,515.0H2928.2Z" fill="#1a1a1a"/>
<path d="M3130.8,466.1H3137.2V512.4H3130.8ZM3125.0,513.3L3128.0,512.4H3140.0L3143.0,513.3L3140.0,515.0H3128.0ZM3125.0,464.4L3128.0,463.5H3140.0L3143.0,464.4L3140.0,466.1H3128.0ZM3138.0,464.5L3146.0,464.5L3158.3,515.0L3155.3,515.0ZM3171.0,464.5L3174.0,464.5L3158.3,515.0L3156.3,512.0ZM3133.0,464.4L3136.0,463.5H3149.0L3152.0,464.4L3149.0,466.1H3136.0ZM3165.0,464.4L3168.0,463.5H3177.0L3180.0,464.4L3177.0,466.1H3168.0Z" fill="#1a1a1a"/>
<path d="M3317.5,464.5L3325.5,464.5L3337.8,515.0L3334.8,515.0ZM3350.5,464.5L3353.5,464.5L3337.8,515.0L3335.8,512.0ZM3312.5,464.4L3315.5,463.5H3328.5L3331.5,464.4L3328.5,466.1H3315.5ZM3344.5,464.4L3347.5,463.5H3356.5L3359.5,464.4L3356.5,466.1H3347.5Z" fill="#1a1a1a"/>
<path d="M2192.7,1014.0 L2196.7,1014.0 L2200.7,1014.0 L2204.7,1013.9 L2208.7,1013.9 L2212.7,1013.9 L2216.7,1013.9 L2220.7,1013.9 L2224.7,1013.8 L2228.7,1013.8 L2232.7,1013.8 L2236.7,1013.8 L2240.7,1013.8 L2244.7,1013.7 L2248.7,1013.7 L2252.7,1013.7 L2256.7,1013.7 L2260.7,1013.7 L2264.7,1013.6 L2268.7,1013.6 L2272.7,1013.6 L2276.7,1013.6 L2280.7,1013.6 L2284.7,1013.5 L2288.7,1013.5 L2292.7,1013.5 L2296.7,1013.5 L2300.7,1013.5 L2304.7,1013.5 L2308.7,1013.4 L2312.7,1013.4 L2316.7,1013.4 L2320.7,1013.4 L2324.7,1013.4 L2328.7,1013.3 L2332.7,1013.3 L2336.7,1013.3 L2340.7,1013.3 L2344.7,1013.3 L2348.7,1013.2 L2352.7,1013.2 L2356.7,1013.2 L2360.7,1013.2 L2364.7,1013.2 L2368.7,1013.1 L2372.7,1013.1 L2376.7,1013.1 L2380.7,1013.1 L2384.7,1013.1 L2388.7,1013.0 L2392.7,1013.0 L2396.7,1013.0 L2400.7,1013.0 L2404.7,1013.0 L2408.7,1012.9 L2412.7,1012.9 L2416.7,1012.9 L2420.7,1012.9 L2424.7,1012.9 L2428.7,1012.8 L2432.7,1012.8 L2436.7,1012.8 L2440.7,1012.8 L2444.7,1012.8 L2448.7,1012.7 L2452.7,1012.7 L2456.7,1012.7 L2460.7,1012.7 L2464.7,1012.7 L2468.7,1012.6 L2472.7,1012.6 L2476.7,1012.6 L2480.7,1012.6 L2484.7,1012.6 L2488.7,1012.5 L2492.7,1012.5 L2496.7,1012.5 L2500.7,1012.5 L2504.7,1012.5 L2508.7,1012.4 L2512.7,1012.4 L2516.7,1012.4 L2520.7,1012.4 L2524.7,1012.4 L2528.7,1012.4 L2532.7,1012.3 L2536.7,1012.3 L2540.7,1012.3 L2544.7,1012.3 L2548.7,1012.3 L2552.7,1012.2 L2556.7,1012.2 L2560.7,1012.2 L2564.7,1012.2 L2568.7,1012.2 L2572.7,1012.1 L2576.7,1012.1 L2580.7,1012.1 L2584.7,1012.1 L2588.7,1012.1 L2592.7,1012.0 L2596.7,1012.0 L2600.7,1012.0 L2604.7,1011.9 L2608.7,1011.8 L2612.7,1011.7 L2616.7,1011.7 L2620.7,1011.6 L2624.7,1011.5 L2628.7,1011.4 L2632.7,1011.3 L2636.7,1011.2 L2640.7,1011.2 L2644.7,1011.1 L2648.7,1011.0 L2652.7,1010.9 L2656.7,1010.8 L2660.7,1010.8 L2664.7,1010.7 L2668.7,1010.6 L2672.7,1010.5 L2676.7,1010.4 L2680.7,1010.3 L2684.7,1010.3 L2688.7,1010.2 L2692.7,1010.1 L2696.7,1010.0 L2700.7,1009.9 L2704.7,1009.8 L2708.7,1009.8 L2712.7,1009.7 L2716.7,1009.6 L2720.7,1009.5 L2724.7,1009.4 L2728.7,1009.4 L2732.7,1009.3 L2736.7,1009.2 L2740.7,1009.1 L2744.7,1009.0 L2748.7,1008.9 L2752.7,1008.9 L2756.7,1008.8 L2760.7,1008.7 L2764.7,1008.6 L2768.7,1008.5 L2772.7,1008.4 L2776.7,1008.4 L2780.7,1008.3 L2784.7,1008.2 L2788.7,1008.1 L2792.7,1008.0 L2796.7,1008.0 L2800.7,1007.9 L2804.7,1007.8 L2808.7,1007.7 L2812.7,1007.6 L2816.6,1007.5 L2820.6,1007.5 L2824.6,1007.4 L2828.6,1007.3 L2832.6,1007.2 L2836.6,1007.1 L2840.6,1007.0 L2844.6,1007.0 L2848.6,1006.9 L2852.6,1006.8 L2856.6,1006.7 L2860.6,1006.5 L2864.6,1006.3 L2868.6,1006.1 L2872.6,1005.9 L2876.6,1005.7 L2880.6,1005.5 L2884.6,1005.3 L2888.6,1005.1 L2892.6,1004.9 L2896.6,1004.7 L2900.6,1004.5 L2904.6,1004.3 L2908.6,1004.1 L2912.6,1003.9 L2916.6,1003.7 L2920.6,1003.5 L2924.6,1003.3 L2928.6,1003.1 L2932.5,1002.9 L2936.5,1002.7 L2940.5,1002.5 L2944.5,1002.3 L2948.5,1002.1 L2952.5,1001.9 L2956.5,1001.7 L2960.5,1001.5 L2964.5,1001.3 L2968.5,1001.1 L2972.5,1000.9 L2976.5,1000.7 L2980.5,1000.5 L2984.5,1000.2 L2988.4,999.8 L2992.4,999.3 L2996.3,998.7 L3000.3,998.0 L3004.2,997.3 L3008.2,996.6 L3012.1,995.9 L3016.1,995.2 L3020.0,994.6 L3023.9,993.9 L3027.9,993.2 L3031.8,992.5 L3035.8,991.8 L3039.7,991.1 L3043.6,990.4 L3047.6,989.7 L3051.5,989.1 L3055.5,988.4 L3059.4,987.7 L3063.3,987.0 L3067.3,986.3 L3071.2,985.5 L3075.0,984.5 L3078.8,983.3 L3082.6,981.9 L3086.3,980.5 L3090.0,979.0 L3093.7,977.5 L3097.4,976.0 L3101.2,974.5 L3104.9,973.1 L3108.6,971.6 L3112.3,970.1 L3116.0,968.6 L3119.7,967.1 L3123.4,965.6 L3127.1,964.1 L3130.8,962.6 L3134.6,961.1 L3138.2,959.6 L3141.9,958.0 L3145.3,956.2 L3148.4,954.1 L3151.0,951.3 L3153.1,948.2 L3155.0,944.7 L3156.9,941.2 L3158.7,937.6 L3160.4,934.0 L3162.2,930.4 L3164.0,926.9 L3165.8,923.3 L3167.7,919.7 L3169.6,916.3 L3171.7,912.9 L3174.0,909.6 L3176.3,906.3 L3178.7,903.1 L3181.1,899.9 L3183.5,896.7 L3185.9,893.5 L3188.3,890.3 L3190.7,887.1 L3193.1,883.9 L3195.5,880.8 L3198.0,877.7 L3200.6,874.5 L3203.1,871.5 L3205.7,868.4 L3208.2,865.3 L3210.8,862.2 L3213.3,859.2 L3215.9,856.1 L3218.4,853.0 L3220.9,849.9 L3223.2,846.7 L3225.3,843.3 L3227.1,839.8 L3228.7,836.1 L3230.2,832.4 L3231.7,828.7 L3233.2,825.0 L3234.6,821.3 L3235.7,817.5 L3236.7,813.6 L3237.3,809.7 L3237.8,805.8 L3238.1,801.8 L3238.5,797.8 L3238.8,793.8 L3239.2,789.8 L3239.5,785.8 L3239.9,781.9 L3240.2,777.9 L3240.6,773.9 L3241.0,769.9 L3241.3,765.9 L3241.7,761.9 L3242.0,758.0 L3242.4,754.0 L3242.7,750.0 L3243.1,746.0 L3243.4,742.0 L3243.8,738.0 L3244.1,734.1 L3244.5,730.1 L3244.9,726.1 L3245.3,722.1 L3245.8,718.2 L3246.6,714.2 L3247.4,710.3 L3248.3,706.5 L3249.3,702.6 L3250.3,698.7 L3251.2,694.8 L3252.2,690.9 L3253.2,687.1 L3254.2,683.2 L3255.1,679.3 L3256.1,675.4 L3257.1,671.5 L3258.0,667.6 L3259.0,663.8 L3260.0,659.9 L3260.9,656.0 L3261.9,652.1 L3262.9,648.2 L3263.8,644.4 L3264.8,640.5 L3265.6,636.6 L3266.3,632.6 L3267.0,628.7 L3267.6,624.7 L3268.2,620.8 L3268.8,616.8 L3269.4,612.9 L3270.0,608.9 L3270.6,605.0 L3271.2,601.0 L3271.8,597.1 L3272.4,593.1 L3273.0,589.1 L3273.5,585.2 L3274.1,581.2 L3274.6,577.3 L3275.0,573.3 L3275.3,569.3 L3275.7,565.3 L3276.0,561.3 L3276.3,557.3 L3276.7,553.4 L3277.0,549.4 L3277.3,545.4 L3277.7,541.4 L3278.0,537.4 L3278.3,533.4 L3278.7,529.4 L3279.0,525.5 L3279.3,521.5 L3279.7,517.5 L3280.1,513.5 L3280.7,509.6 L3281.4,505.6 L3282.2,501.7 L3283.1,497.8 L3284.1,494.0 L3285.0,490.1 L3286.0,486.2 L3287.0,482.3 L3287.9,478.4 L3288.9,474.5 L3289.9,470.7 L3290.8,466.8 L3291.8,462.9 L3292.8,459.0 L3293.9,455.2 L3295.1,451.4 L3296.6,447.7 L3298.2,444.1 L3300.0,440.5 L3301.7,436.9 L3303.5,433.3 L3305.3,429.7 L3307.0,426.1 L3308.5,422.5 L3309.8,418.7 L3311.0,414.9 L3312.0,411.0 L3313.0,407.1 L3313.9,403.3 L3314.9,399.4 L3315.9,395.5 L3316.9,391.6 L3317.8,387.7 L3318.8,383.9 L3319.7,380.0 L3320.4,376.1 L3321.0,372.1 L3321.5,368.1 L3321.9,364.2 L3322.3,360.2 L3322.7,356.2 L3323.0,352.2 L3323.4,348.2 L3323.7,344.3 L3324.1,340.3 L3324.5,336.3 L3324.8,332.3 L3325.2,328.3 L3325.6,324.3 L3326.0,320.4 L3326.5,316.4 L3327.2,312.5 L3328.2,308.7 L3329.4,304.9 L3330.8,301.2 L3332.3,297.4 L3333.7,293.7 L3335.2,290.0 L3336.6,286.3 L3338.1,282.5 L3339.5,278.8 L3341.0,275.1 L3342.4,271.3 L3343.9,267.6 L3345.3,263.9 L3346.6,260.1 L3347.9,256.3 L3349.1,252.5 L3350.3,248.7 L3351.4,244.9 L3352.6,241.0 L3353.7,237.2 L3354.9,233.4 L3356.0,229.5 L3357.2,225.7 L3358.3,221.9 L3359.5,218.0 L3360.6,214.2 L3361.8,210.4 L3362.9,206.5 L3364.1,202.7 L3365.2,198.9 L3366.2,195.0 L3367.3,191.2 L3368.4,187.3 L3369.5,183.5 L3370.5,179.6 L3371.6,175.7 L3372.7,171.9 L3373.8,168.0 L3374.8,164.2 L3375.9,160.3 L3376.9,156.5 L3377.9,152.6 L3378.8,148.7 L3379.6,144.8 L3380.3,140.9 L3381.0,136.9 L3381.6,133.0 L3382.3,129.0 L3382.9,125.1 L3383.6,121.1 L3384.2,117.2 L3384.9,113.2 L3385.5,109.3 L3386.2,105.5 L3386.7,102.0 L3387.3,98.9 L3387.5,97.4" fill="none" stroke="#3d3b92" stroke-width="3.5" stroke-linejoin="round" stroke-linecap="round"/>
<path d="M2192.7,1014.5 L2196.7,1014.5 L2200.7,1014.4 L2204.7,1014.4 L2208.7,1014.4 L2212.7,1014.3 L2216.7,1014.3 L2220.7,1014.3 L2224.7,1014.2 L2228.7,1014.2 L2232.7,1014.2 L2236.7,1014.1 L2240.7,1014.1 L2244.7,1014.1 L2248.7,1014.0 L2252.7,1014.0 L2256.7,1014.0 L2260.7,1013.9 L2264.7,1013.9 L2268.7,1013.9 L2272.7,1013.8 L2276.7,1013.8 L2280.7,1013.8 L2284.7,1013.7 L2288.7,1013.7 L2292.7,1013.7 L2296.7,1013.6 L2300.7,1013.6 L2304.7,1013.6 L2308.7,1013.5 L2312.7,1013.5 L2316.7,1013.5 L2320.7,1013.4 L2324.7,1013.4 L2328.7,1013.4 L2332.7,1013.3 L2336.7,1013.3 L2340.7,1013.3 L2344.7,1013.2 L2348.7,1013.2 L2352.7,1013.2 L2356.7,1013.1 L2360.7,1013.1 L2364.7,1013.1 L2368.7,1013.0 L2372.7,1013.0 L2376.7,1013.0 L2380.7,1012.9 L2384.7,1012.9 L2388.7,1012.9 L2392.7,1012.8 L2396.7,1012.8 L2400.7,1012.8 L2404.7,1012.7 L2408.7,1012.7 L2412.7,1012.7 L2416.7,1012.6 L2420.7,1012.6 L2424.7,1012.6 L2428.7,1012.5 L2432.7,1012.5 L2436.7,1012.5 L2440.7,1012.4 L2444.7,1012.4 L2448.7,1012.4 L2452.7,1012.3 L2456.7,1012.3 L2460.7,1012.3 L2464.7,1012.2 L2468.7,1012.2 L2472.7,1012.2 L2476.7,1012.2 L2480.7,1012.1 L2484.7,1012.1 L2488.7,1012.1 L2492.7,1012.0 L2496.7,1012.0 L2500.7,1012.0 L2504.7,1011.9 L2508.7,1011.9 L2512.7,1011.9 L2516.7,1011.8 L2520.7,1011.8 L2524.7,1011.8 L2528.7,1011.7 L2532.7,1011.7 L2536.7,1011.7 L2540.7,1011.6 L2544.7,1011.6 L2548.7,1011.6 L2552.7,1011.5 L2556.7,1011.5 L2560.7,1011.5 L2564.7,1011.4 L2568.7,1011.4 L2572.7,1011.4 L2576.7,1011.3 L2580.7,1011.3 L2584.7,1011.3 L2588.7,1011.2 L2592.7,1011.2 L2596.7,1011.2 L2600.7,1011.1 L2604.7,1011.1 L2608.7,1011.1 L2612.7,1011.0 L2616.7,1011.0 L2620.7,1011.0 L2624.7,1010.9 L2628.7,1010.9 L2632.7,1010.9 L2636.7,1010.8 L2640.7,1010.8 L2644.7,1010.8 L2648.7,1010.7 L2652.7,1010.7 L2656.7,1010.7 L2660.7,1010.6 L2664.7,1010.6 L2668.7,1010.6 L2672.7,1010.5 L2676.7,1010.5 L2680.7,1010.5 L2684.7,1010.4 L2688.7,1010.4 L2692.7,1010.4 L2696.7,1010.3 L2700.7,1010.3 L2704.7,1010.3 L2708.7,1010.2 L2712.7,1010.2 L2716.7,1010.2 L2720.7,1010.1 L2724.7,1010.1 L2728.7,1010.1 L2732.7,1010.0 L2736.7,1010.0 L2740.7,1010.0 L2744.7,1009.9 L2748.7,1009.9 L2752.7,1009.9 L2756.7,1009.8 L2760.7,1009.8 L2764.7,1009.8 L2768.7,1009.7 L2772.7,1009.7 L2776.7,1009.7 L2780.7,1009.6 L2784.7,1009.6 L2788.7,1009.6 L2792.7,1009.5 L2796.7,1009.5 L2800.7,1009.5 L2804.7,1009.4 L2808.7,1009.4 L2812.7,1009.4 L2816.7,1009.3 L2820.7,1009.3 L2824.7,1009.3 L2828.7,1009.2 L2832.7,1009.2 L2836.7,1009.2 L2840.7,1009.1 L2844.7,1009.1 L2848.7,1009.1 L2852.7,1009.0 L2856.7,1009.0 L2860.7,1008.9 L2864.7,1008.9 L2868.7,1008.8 L2872.7,1008.7 L2876.7,1008.7 L2880.7,1008.6 L2884.7,1008.5 L2888.7,1008.5 L2892.7,1008.4 L2896.7,1008.3 L2900.7,1008.2 L2904.7,1008.2 L2908.7,1008.1 L2912.7,1008.0 L2916.7,1008.0 L2920.7,1007.9 L2924.7,1007.8 L2928.7,1007.7 L2932.7,1007.7 L2936.7,1007.6 L2940.7,1007.5 L2944.7,1007.5 L2948.7,1007.4 L2952.7,1007.3 L2956.7,1007.3 L2960.7,1007.2 L2964.7,1007.1 L2968.7,1007.0 L2972.7,1007.0 L2976.7,1006.9 L2980.7,1006.8 L2984.7,1006.7 L2988.6,1006.5 L2992.6,1006.3 L2996.6,1005.9 L3000.6,1005.6 L3004.6,1005.3 L3008.6,1004.9 L3012.6,1004.6 L3016.5,1004.2 L3020.5,1003.9 L3024.5,1003.5 L3028.5,1003.2 L3032.5,1002.8 L3036.5,1002.5 L3040.5,1002.1 L3044.4,1001.8 L3048.4,1001.4 L3052.4,1001.1 L3056.4,1000.7 L3060.4,1000.4 L3064.4,1000.0 L3068.4,999.7 L3072.3,999.3 L3076.3,999.0 L3080.3,998.6 L3084.3,998.2 L3088.2,997.7 L3092.2,997.0 L3096.0,996.1 L3099.9,995.1 L3103.7,994.0 L3107.6,992.9 L3111.4,991.8 L3115.3,990.7 L3119.1,989.6 L3123.0,988.5 L3126.8,987.4 L3130.6,986.2 L3134.5,985.1 L3138.3,984.0 L3142.2,982.9 L3146.0,981.8 L3149.8,980.6 L3153.6,979.4 L3157.1,977.8 L3160.4,975.8 L3163.4,973.3 L3166.2,970.5 L3168.9,967.6 L3171.7,964.8 L3174.6,962.1 L3177.7,959.7 L3181.0,957.4 L3184.3,955.2 L3187.7,953.1 L3191.1,951.0 L3194.5,948.8 L3197.9,946.7 L3201.3,944.6 L3204.7,942.5 L3208.0,940.4 L3211.4,938.2 L3214.8,936.1 L3218.2,934.0 L3221.6,931.8 L3224.8,929.6 L3227.8,927.1 L3230.4,924.3 L3232.4,921.1 L3234.0,917.6 L3235.5,913.9 L3236.9,910.1 L3238.3,906.4 L3239.7,902.6 L3241.1,898.9 L3242.4,895.1 L3243.8,891.4 L3245.2,887.6 L3246.6,883.9 L3248.0,880.1 L3249.5,876.4 L3251.2,872.9 L3253.1,869.4 L3255.4,866.2 L3257.8,863.0 L3260.3,859.9 L3262.9,856.8 L3265.4,853.7 L3267.9,850.6 L3270.5,847.5 L3272.9,844.4 L3275.3,841.2 L3277.5,837.9 L3279.4,834.4 L3281.2,830.9 L3282.9,827.2 L3284.6,823.6 L3286.2,820.0 L3287.9,816.3 L3289.6,812.7 L3291.3,809.1 L3293.0,805.5 L3294.9,802.0 L3297.0,798.6 L3299.1,795.2 L3301.4,792.0 L3303.7,788.7 L3306.0,785.4 L3308.3,782.1 L3310.6,778.9 L3312.9,775.6 L3315.2,772.3 L3317.6,769.1 L3319.9,765.8 L3322.2,762.5 L3324.5,759.3 L3326.9,756.2 L3329.5,753.2 L3332.4,750.4 L3335.4,747.8 L3338.5,745.4 L3341.7,743.0 L3344.9,740.6 L3348.0,738.1 L3351.1,735.5 L3353.9,732.8 L3356.7,729.9 L3359.3,726.9 L3361.8,723.8 L3364.4,720.7 L3367.0,717.6 L3369.5,714.6 L3372.1,711.5 L3374.6,708.4 L3377.0,705.3 L3379.2,702.0 L3381.0,698.6 L3382.3,694.9 L3383.2,691.1 L3384.0,687.2 L3384.7,683.2 L3385.4,679.3 L3386.1,675.5 L3386.8,671.7 L3387.5,668.0 L3387.5,668.0" fill="none" stroke="#dc2459" stroke-width="3.5" stroke-linejoin="round" stroke-linecap="round"/>
<line x1="2584.5" y1="699.0" x2="2584.5" y2="456.0" stroke="#d8285a" stroke-width="4" stroke-dasharray="28,7,5,8"/>
<line x1="2837.8" y1="552.0" x2="2837.8" y2="447.0" stroke="#d8285a" stroke-width="4" stroke-dasharray="28,7,5,8"/>
<line x1="3042.7" y1="544.0" x2="3042.7" y2="220.0" stroke="#d8285a" stroke-width="4" stroke-dasharray="28,7,5,8"/>
<line x1="3241.9" y1="545.0" x2="3241.9" y2="64.0" stroke="#d8285a" stroke-width="4" stroke-dasharray="28,7,5,8"/>
<path d="M2170.2,1013.0 L2171.9,1009.4 L2173.6,1005.8 L2175.4,1002.2 L2177.2,998.7 L2179.2,995.3 L2181.3,992.0 L2183.6,988.8 L2186.2,985.9 L2189.0,983.1 L2191.9,980.5 L2195.0,978.1 L2198.2,975.8 L2201.6,973.7 L2205.0,971.7 L2208.6,969.8 L2212.1,968.0 L2215.7,966.2 L2219.3,964.4 L2222.9,962.7 L2226.5,961.0 L2230.1,959.3 L2233.7,957.5 L2237.3,955.8 L2240.9,954.1 L2244.5,952.4 L2248.1,950.6 L2251.7,948.8 L2255.2,947.0 L2258.7,945.0 L2262.2,943.1 L2265.6,941.1 L2269.1,939.0 L2272.5,937.0 L2275.9,934.9 L2279.3,932.8 L2282.7,930.6 L2286.1,928.5 L2289.4,926.3 L2292.7,924.1 L2296.0,921.8 L2299.3,919.5 L2302.6,917.3 L2305.9,915.0 L2309.2,912.7 L2312.5,910.4 L2315.7,908.1 L2319.0,905.8 L2322.3,903.5 L2325.5,901.1 L2328.7,898.8 L2331.9,896.4 L2335.2,894.0 L2338.4,891.6 L2341.6,889.2 L2344.8,886.8 L2348.0,884.4 L2351.2,882.0 L2354.4,879.6 L2357.6,877.2 L2360.8,874.8 L2364.0,872.4 L2367.2,870.0 L2370.4,867.7 L2373.6,865.3 L2376.9,863.0 L2380.1,860.6 L2383.4,858.3 L2386.6,855.9 L2389.8,853.6 L2393.1,851.2 L2396.3,848.9 L2399.6,846.5 L2402.8,844.2 L2406.0,841.8 L2409.2,839.4 L2412.4,837.0 L2415.6,834.6 L2418.7,832.1 L2421.9,829.7 L2425.1,827.2 L2428.2,824.8 L2431.4,822.4 L2434.6,819.9 L2437.7,817.5 L2440.9,815.0 L2444.1,812.6 L2447.2,810.1 L2450.4,807.6 L2453.5,805.1 L2456.6,802.6 L2459.7,800.1 L2462.8,797.6 L2465.9,795.1 L2469.0,792.5 L2472.1,790.0 L2475.2,787.5 L2478.3,784.9 L2481.4,782.4 L2484.5,779.9 L2487.6,777.3 L2490.7,774.8 L2493.8,772.3 L2496.9,769.8 L2500.0,767.3 L2503.2,764.8 L2506.3,762.3 L2509.4,759.8 L2512.6,757.4 L2515.7,754.9 L2518.9,752.4 L2522.0,750.0 L2525.2,747.5 L2528.3,745.0 L2531.5,742.6 L2534.6,740.1 L2537.8,737.6 L2540.9,735.1 L2544.0,732.6 L2547.1,730.0 L2550.1,727.4 L2553.1,724.8 L2556.1,722.2 L2559.1,719.5 L2562.1,716.9 L2565.1,714.3 L2568.2,711.7 L2571.3,709.2 L2574.4,706.7 L2577.6,704.3 L2580.7,701.8 L2583.8,699.4 L2586.9,696.8 L2589.9,694.2 L2592.9,691.5 L2595.8,688.8 L2598.8,686.1 L2601.7,683.5 L2604.7,680.8 L2607.8,678.2 L2610.8,675.6 L2613.8,673.0 L2616.9,670.4 L2619.9,667.8 L2622.9,665.2 L2626.0,662.6 L2629.0,659.9 L2632.0,657.3 L2634.9,654.6 L2637.9,651.9 L2640.8,649.1 L2643.6,646.3 L2646.5,643.5 L2649.3,640.7 L2652.1,637.9 L2655.0,635.0 L2657.8,632.2 L2660.6,629.4 L2663.5,626.6 L2666.3,623.7 L2669.1,620.9 L2672.0,618.1 L2674.9,615.3 L2677.7,612.6 L2680.6,609.8 L2683.5,607.0 L2686.4,604.3 L2689.3,601.5 L2692.2,598.8 L2695.1,596.0 L2698.0,593.2 L2700.9,590.5 L2703.8,587.8 L2706.7,585.0 L2709.7,582.3 L2712.6,579.6 L2715.6,576.9 L2718.5,574.2 L2721.5,571.5 L2724.5,568.8 L2727.4,566.2 L2730.4,563.5 L2733.4,560.8 L2736.3,558.1 L2739.2,555.4 L2742.1,552.6 L2745.0,549.8 L2747.7,546.9 L2750.4,544.0 L2753.1,541.0 L2755.7,538.0 L2758.3,535.0 L2760.9,531.9 L2763.6,528.9 L2766.2,525.9 L2768.9,523.0 L2771.6,520.0 L2774.3,517.1 L2777.1,514.2 L2779.8,511.3 L2782.6,508.4 L2785.3,505.5 L2788.1,502.6 L2790.8,499.7 L2793.6,496.7 L2796.3,493.8 L2799.0,490.9 L2801.7,487.9 L2804.4,485.0 L2807.0,482.0 L2809.7,479.0 L2812.3,476.0 L2815.0,473.0 L2817.6,469.9 L2820.2,466.9 L2822.9,464.0 L2825.5,461.0 L2828.2,458.0 L2830.9,455.0 L2833.5,452.0 L2836.1,449.0 L2838.7,445.9 L2841.2,442.8 L2843.7,439.7 L2846.1,436.5 L2848.5,433.4 L2851.0,430.2 L2853.5,427.1 L2856.0,423.9 L2858.5,420.8 L2861.0,417.7 L2863.6,414.7 L2866.1,411.6 L2868.7,408.5 L2871.2,405.4 L2873.7,402.3 L2876.3,399.2 L2878.8,396.1 L2881.4,393.0 L2883.9,390.0 L2886.5,386.9 L2889.1,383.8 L2891.7,380.8 L2894.3,377.8 L2897.0,374.9 L2899.7,371.9 L2902.5,369.0 L2905.2,366.1 L2908.0,363.3 L2910.8,360.4 L2913.6,357.5 L2916.4,354.6 L2919.2,351.8 L2921.9,348.9 L2924.7,346.0 L2927.5,343.1 L2930.3,340.3 L2933.1,337.4 L2935.8,334.5 L2938.6,331.6 L2941.3,328.7 L2944.1,325.8 L2946.8,322.9 L2949.5,319.9 L2952.2,317.0 L2954.9,314.0 L2957.6,311.0 L2960.3,308.1 L2963.0,305.1 L2965.6,302.1 L2968.3,299.2 L2971.0,296.2 L2973.7,293.3 L2976.4,290.3 L2979.1,287.3 L2981.8,284.4 L2984.5,281.4 L2987.2,278.5 L2989.9,275.6 L2992.7,272.7 L2995.5,269.8 L2998.2,266.9 L3001.0,264.1 L3003.8,261.2 L3006.6,258.3 L3009.4,255.5 L3012.2,252.6 L3015.0,249.8 L3017.8,246.9 L3020.6,244.0 L3023.4,241.1 L3026.1,238.2 L3028.8,235.3 L3031.4,232.3 L3034.0,229.3 L3036.6,226.2 L3039.3,223.2 L3041.9,220.3 L3044.7,217.4 L3047.4,214.5 L3050.2,211.6 L3053.0,208.7 L3055.7,205.8 L3058.4,202.9 L3061.0,199.9 L3063.6,196.8 L3066.2,193.8 L3068.8,190.7 L3071.4,187.7 L3074.0,184.6 L3076.6,181.6 L3079.2,178.6 L3081.9,175.6 L3084.6,172.7 L3087.4,169.8 L3090.2,166.9 L3093.0,164.1 L3095.8,161.3 L3098.6,158.4 L3101.4,155.6 L3104.3,152.8 L3107.1,150.0 L3110.0,147.1 L3112.8,144.3 L3115.7,141.6 L3118.6,138.8 L3121.5,136.1 L3124.5,133.4 L3127.5,130.7 L3130.5,128.1 L3133.5,125.5 L3136.5,122.9 L3139.6,120.3 L3142.6,117.7 L3145.6,115.1 L3148.7,112.5 L3151.7,109.9 L3154.7,107.2 L3157.7,104.6 L3160.7,102.0 L3163.7,99.4 L3166.8,96.8 L3169.9,94.4 L3173.1,92.2 L3176.5,90.2 L3180.0,88.3 L3183.6,86.7 L3187.2,85.2 L3190.9,83.7 L3194.6,82.3 L3198.3,80.7 L3202.0,79.2 L3205.6,77.6 L3209.3,75.9 L3212.9,74.3 L3216.6,72.6 L3220.2,71.0 L3223.8,69.5 L3227.4,68.0 L3230.9,66.5 L3234.2,65.1 L3237.6,63.8 L3239.2,63.1" fill="none" stroke="#111111" stroke-width="4.5" stroke-linejoin="round" stroke-linecap="round"/>
<path d="M3239.2,63.1 C3244.4,66.6 3250.5,69.4 3254.9,73.6 C3259.1,77.6 3263.1,82.5 3265.4,87.5 C3267.6,92.4 3266.0,101.2 3268.9,103.2 C3271.2,104.8 3275.8,100.9 3279.3,101.5 C3283.4,102.2 3287.1,105.8 3291.6,108.5 C3297.3,111.9 3304.3,116.6 3310.7,120.7" fill="none" stroke="#111111" stroke-width="4.5" stroke-linejoin="round" stroke-linecap="round"/>
<path d="M3310.7,120.7 L3312.5,206.1" fill="none" stroke="#111111" stroke-width="4.5" stroke-linejoin="round" stroke-linecap="round"/>
<path d="M3312.5,206.1 C3317.1,203.2 3321.6,198.5 3326.4,197.4 C3330.9,196.4 3335.0,198.3 3340.4,199.1 C3347.8,200.2 3359.5,200.3 3366.5,203.5 C3372.3,206.1 3375.8,210.6 3380.5,214.8 C3385.7,219.5 3392.9,225.3 3396.2,230.5 C3398.7,234.3 3399.1,238.1 3400.5,241.9" fill="none" stroke="#111111" stroke-width="4.5" stroke-linejoin="round" stroke-linecap="round"/>
<path d="M3400.5,241.9 L3402.0,300.0 L3405.0,1014.0" fill="none" stroke="#111111" stroke-width="4.5" stroke-linejoin="round" stroke-linecap="round"/>
<circle cx="2584.3" cy="699.4" r="13.75" fill="#e3323e" stroke="#111111" stroke-width="3.5"/>
<circle cx="2837.8" cy="446.6" r="13.75" fill="#e3323e" stroke="#111111" stroke-width="3.5"/>
<circle cx="3041.3" cy="220.1" r="13.75" fill="#e3323e" stroke="#111111" stroke-width="3.5"/>
<circle cx="3239.2" cy="63.1" r="13.75" fill="#e3323e" stroke="#111111" stroke-width="3.5"/>
<circle cx="3400.5" cy="241.9" r="13.75" fill="#e3323e" stroke="#111111" stroke-width="3.5"/>
<text x="2513.4" y="675.3" font-size="66" text-anchor="start" font-style="italic">A</text>
<text x="2786.3" y="390.0" font-size="66" text-anchor="start" font-style="italic">B</text>
<text x="2990.7" y="210.6" font-size="66" text-anchor="start" font-style="italic">C</text>
<text x="3273.9" y="87.5" font-size="66" text-anchor="start" font-style="italic">D</text>
<text x="3433.5" y="248.7" font-size="66" text-anchor="start" font-style="italic">E</text>
<rect x="1206" y="1417" width="1381" height="980" fill="none" stroke="#111111" stroke-width="4"/>
<text x="1151.5" y="2419.0" font-size="66" text-anchor="start">0</text>
<line x1="1206" y1="2152.0" x2="1230" y2="2152.0" stroke="#111111" stroke-width="4"/>
<text x="1118.5" y="2174.0" font-size="66" text-anchor="start">10</text>
<line x1="1206" y1="1907.0" x2="1230" y2="1907.0" stroke="#111111" stroke-width="4"/>
<text x="1118.5" y="1929.0" font-size="66" text-anchor="start">20</text>
<line x1="1206" y1="1662.0" x2="1230" y2="1662.0" stroke="#111111" stroke-width="4"/>
<text x="1118.5" y="1684.0" font-size="66" text-anchor="start">30</text>
<text x="1118.5" y="1439.0" font-size="66" text-anchor="start">40</text>
<text x="2610.0" y="2419.0" font-size="66" text-anchor="start">0</text>
<line x1="2587" y1="2201.0" x2="2565" y2="2201.0" stroke="#111111" stroke-width="4"/>
<text x="2610.0" y="2223.0" font-size="66" text-anchor="start">0.2</text>
<line x1="2587" y1="2005.0" x2="2565" y2="2005.0" stroke="#111111" stroke-width="4"/>
<text x="2610.0" y="2027.0" font-size="66" text-anchor="start">0.4</text>
<line x1="2587" y1="1809.0" x2="2565" y2="1809.0" stroke="#111111" stroke-width="4"/>
<text x="2610.0" y="1831.0" font-size="66" text-anchor="start">0.6</text>
<line x1="2587" y1="1613.0" x2="2565" y2="1613.0" stroke="#111111" stroke-width="4"/>
<text x="2610.0" y="1635.0" font-size="66" text-anchor="start">0.8</text>
<text x="2610.0" y="1439.0" font-size="66" text-anchor="start">1.0</text>
<line x1="1482.2" y1="2397" x2="1482.2" y2="2377" stroke="#111111" stroke-width="4"/>
<text x="1448.5" y="2469.5" font-size="66" text-anchor="start">50</text>
<line x1="1758.4" y1="2397" x2="1758.4" y2="2377" stroke="#111111" stroke-width="4"/>
<text x="1707.3" y="2469.5" font-size="66" text-anchor="start">100</text>
<line x1="2034.6" y1="2397" x2="2034.6" y2="2377" stroke="#111111" stroke-width="4"/>
<text x="1983.5" y="2469.5" font-size="66" text-anchor="start">150</text>
<line x1="2310.8" y1="2397" x2="2310.8" y2="2377" stroke="#111111" stroke-width="4"/>
<text x="2261.1" y="2469.5" font-size="66" text-anchor="start">200</text>
<text x="2537.3" y="2469.5" font-size="66" text-anchor="start">250</text>
<text x="1805.4" y="2561.0" font-size="66" text-anchor="start">Time/s</text>
<text x="1658.0" y="2655.1" font-size="66" text-anchor="start">(c) Saturated state</text>
<text transform="translate(1071.5,1907.0) rotate(-90)" x="0" y="0" font-size="66" text-anchor="middle">Axial stress/MPa</text>
<text transform="translate(2786.2,1907.0) rotate(-90)" x="0" y="0" font-size="66" text-anchor="middle">Number of micro cracks/10<tspan font-size="40" dy="-22">3</tspan></text>
<line x1="1288.5" y1="1485" x2="1417.5" y2="1485" stroke="#3d3b92" stroke-width="4"/>
<line x1="1288.5" y1="1566.5" x2="1417.5" y2="1566.5" stroke="#dc2459" stroke-width="4"/>
<text x="1433.3" y="1506.0" font-size="66" text-anchor="start">Tensile crack</text>
<text x="1432.6" y="1588.0" font-size="66" text-anchor="start">Shear crack</text>
<line x1="1230" y1="1906.0" x2="2587" y2="1906.0" stroke="#dc2459" stroke-width="4"/>
<path d="M1462.3,1848.1H1468.8V1894.4H1462.3ZM1456.6,1846.4L1459.6,1845.5H1471.6L1474.6,1846.4L1471.6,1848.1H1459.6ZM1456.6,1895.3L1459.6,1894.4H1471.6L1474.6,1895.3L1471.6,1897.0H1459.6Z" fill="#1a1a1a"/>
<path d="M1862.0,1848.1H1868.5V1894.4H1862.0ZM1879.0,1848.1H1885.5V1894.4H1879.0ZM1856.2,1846.4L1859.2,1845.5H1888.2L1891.2,1846.4L1888.2,1848.1H1859.2ZM1856.2,1895.3L1859.2,1894.4H1888.2L1891.2,1895.3L1888.2,1897.0H1859.2Z" fill="#1a1a1a"/>
<path d="M2190.3,1848.1H2196.8V1894.4H2190.3ZM2204.3,1848.1H2210.8V1894.4H2204.3ZM2218.3,1848.1H2224.8V1894.4H2218.3ZM2184.6,1846.4L2187.6,1845.5H2227.6L2230.6,1846.4L2227.6,1848.1H2187.6ZM2184.6,1895.3L2187.6,1894.4H2227.6L2230.6,1895.3L2227.6,1897.0H2187.6Z" fill="#1a1a1a"/>
<path d="M2398.8,1848.1H2405.2V1894.4H2398.8ZM2393.0,1895.3L2396.0,1894.4H2408.0L2411.0,1895.3L2408.0,1897.0H2396.0ZM2393.0,1846.4L2396.0,1845.5H2408.0L2411.0,1846.4L2408.0,1848.1H2396.0ZM2406.0,1846.5L2414.0,1846.5L2426.3,1897.0L2423.3,1897.0ZM2439.0,1846.5L2442.0,1846.5L2426.3,1897.0L2424.3,1894.0ZM2401.0,1846.4L2404.0,1845.5H2417.0L2420.0,1846.4L2417.0,1848.1H2404.0ZM2433.0,1846.4L2436.0,1845.5H2445.0L2448.0,1846.4L2445.0,1848.1H2436.0Z" fill="#1a1a1a"/>
<path d="M2463.5,1846.5L2471.5,1846.5L2483.8,1897.0L2480.8,1897.0ZM2496.5,1846.5L2499.5,1846.5L2483.8,1897.0L2481.8,1894.0ZM2458.5,1846.4L2461.5,1845.5H2474.5L2477.5,1846.4L2474.5,1848.1H2461.5ZM2490.5,1846.4L2493.5,1845.5H2502.5L2505.5,1846.4L2502.5,1848.1H2493.5Z" fill="#1a1a1a"/>
<path d="M1231.7,2392.6 L1234.7,2389.9 L1237.6,2387.2 L1240.6,2384.5 L1243.7,2382.0 L1247.0,2379.9 L1250.5,2378.2 L1254.2,2376.6 L1257.9,2375.1 L1261.6,2373.6 L1265.3,2372.1 L1268.8,2370.2 L1272.2,2368.1 L1275.5,2366.0 L1279.0,2364.1 L1282.7,2362.9 L1286.6,2362.1 L1290.5,2361.5 L1294.5,2360.9 L1298.4,2360.2 L1302.2,2359.1 L1305.7,2357.4 L1309.2,2355.5 L1312.8,2353.8 L1316.5,2352.4 L1320.3,2351.4 L1324.2,2350.5 L1328.1,2349.7 L1332.0,2348.8 L1335.9,2347.9 L1339.8,2347.0 L1343.8,2346.2 L1347.7,2345.3 L1351.6,2344.4 L1355.5,2343.6 L1359.4,2342.8 L1363.3,2342.1 L1367.3,2341.5 L1371.2,2340.9 L1375.2,2340.2 L1379.1,2339.5 L1383.0,2338.7 L1386.9,2337.6 L1390.7,2336.5 L1394.5,2335.3 L1398.4,2334.2 L1402.2,2333.2 L1406.1,2332.4 L1410.1,2331.9 L1414.1,2331.5 L1418.0,2331.1 L1422.0,2330.7 L1426.0,2330.3 L1430.0,2329.9 L1434.0,2329.5 L1437.9,2329.1 L1441.9,2328.7 L1445.9,2328.4 L1449.9,2328.0 L1453.9,2327.8 L1457.9,2327.6 L1461.9,2327.4 L1465.9,2327.2 L1469.9,2327.0 L1473.9,2326.8 L1477.9,2326.6 L1481.9,2326.4 L1485.8,2326.2 L1489.8,2326.0 L1493.8,2325.8 L1497.8,2325.6 L1501.8,2325.4 L1505.8,2325.2 L1509.8,2325.0 L1513.8,2324.8 L1517.8,2324.6 L1521.8,2324.4 L1525.8,2324.2 L1529.8,2324.0 L1533.8,2323.8 L1537.8,2323.6 L1541.8,2323.4 L1545.8,2323.2 L1549.8,2323.0 L1553.8,2322.8 L1557.8,2322.6 L1561.8,2322.4 L1565.7,2322.2 L1569.7,2322.0 L1573.7,2321.8 L1577.7,2321.6 L1581.7,2321.4 L1585.7,2321.2 L1589.7,2321.0 L1593.7,2320.8 L1597.7,2320.6 L1601.7,2320.4 L1605.7,2320.2 L1609.7,2320.0 L1613.7,2319.8 L1617.7,2319.6 L1621.7,2319.4 L1625.7,2319.2 L1629.7,2319.0 L1633.7,2318.8 L1637.7,2318.6 L1641.7,2318.4 L1645.6,2318.2 L1649.6,2318.0 L1653.6,2317.8 L1657.6,2317.7 L1661.6,2317.7 L1665.6,2317.6 L1669.6,2317.5 L1673.6,2317.5 L1677.6,2317.4 L1681.6,2317.3 L1685.6,2317.3 L1689.6,2317.2 L1693.6,2317.1 L1697.6,2317.1 L1701.6,2317.0 L1705.6,2316.9 L1709.6,2316.9 L1713.6,2316.8 L1717.6,2316.7 L1721.6,2316.7 L1725.6,2316.7 L1729.6,2316.6 L1733.6,2316.6 L1737.6,2316.6 L1741.6,2316.5 L1745.6,2316.5 L1749.6,2316.5 L1753.6,2316.5 L1757.6,2316.4 L1761.6,2316.4 L1765.6,2316.4 L1769.6,2316.4 L1773.6,2316.3 L1777.6,2316.3 L1781.6,2316.3 L1785.6,2316.2 L1789.6,2316.2 L1793.6,2316.2 L1797.6,2316.2 L1801.6,2316.1 L1805.6,2316.1 L1809.6,2316.1 L1813.6,2316.0 L1817.6,2316.0 L1821.6,2316.0 L1825.6,2316.0 L1829.6,2315.9 L1833.6,2315.9 L1837.6,2315.9 L1841.6,2315.9 L1845.6,2315.8 L1849.6,2315.8 L1853.6,2315.8 L1857.6,2315.7 L1861.6,2315.7 L1865.6,2315.7 L1869.6,2315.7 L1873.6,2315.6 L1877.6,2315.6 L1881.6,2315.6 L1885.6,2315.5 L1889.6,2315.5 L1893.6,2315.5 L1897.6,2315.5 L1901.6,2315.4 L1905.6,2315.4 L1909.6,2315.4 L1913.6,2315.4 L1917.6,2315.3 L1921.6,2315.3 L1925.6,2315.3 L1929.6,2315.2 L1933.6,2315.2 L1937.6,2315.2 L1941.6,2315.2 L1945.6,2315.1 L1949.6,2315.1 L1953.6,2315.0 L1957.6,2314.9 L1961.6,2314.8 L1965.6,2314.8 L1969.6,2314.7 L1973.6,2314.6 L1977.6,2314.5 L1981.6,2314.4 L1985.6,2314.3 L1989.6,2314.2 L1993.6,2314.1 L1997.6,2314.1 L2001.6,2314.0 L2005.6,2313.8 L2009.6,2313.6 L2013.6,2313.3 L2017.6,2313.1 L2021.6,2312.8 L2025.6,2312.5 L2029.6,2312.3 L2033.5,2312.0 L2037.5,2311.8 L2041.5,2311.5 L2045.5,2311.2 L2049.5,2311.0 L2053.5,2310.7 L2057.5,2310.4 L2061.5,2310.2 L2065.5,2309.9 L2069.5,2309.7 L2073.5,2309.4 L2077.5,2309.1 L2081.4,2308.9 L2085.4,2308.6 L2089.4,2308.3 L2093.4,2308.1 L2097.4,2307.8 L2101.4,2307.6 L2105.4,2307.3 L2109.4,2307.0 L2113.4,2306.6 L2117.3,2306.2 L2121.3,2305.9 L2125.3,2305.5 L2129.3,2305.1 L2133.3,2304.8 L2137.3,2304.4 L2141.2,2304.0 L2145.2,2303.6 L2149.2,2303.3 L2153.2,2302.9 L2157.1,2302.4 L2161.0,2301.7 L2164.7,2300.3 L2168.2,2298.5 L2171.7,2296.5 L2175.1,2294.5 L2178.6,2292.5 L2182.1,2290.5 L2185.6,2288.6 L2189.2,2286.9 L2192.9,2285.6 L2196.7,2284.5 L2200.6,2283.5 L2204.5,2282.5 L2208.4,2281.5 L2212.2,2280.6 L2216.1,2279.6 L2220.0,2278.6 L2223.9,2277.7 L2227.8,2276.9 L2231.7,2276.2 L2235.7,2275.5 L2239.6,2274.8 L2243.6,2274.2 L2247.5,2273.4 L2251.3,2272.5 L2255.1,2271.1 L2258.7,2269.5 L2262.3,2267.8 L2266.0,2266.1 L2269.6,2264.4 L2273.2,2262.7 L2276.8,2261.0 L2280.4,2259.3 L2284.2,2257.9 L2288.0,2256.8 L2291.9,2255.8 L2295.7,2254.9 L2299.6,2253.8 L2303.3,2252.5 L2306.9,2250.8 L2310.4,2248.8 L2313.8,2246.8 L2317.3,2244.8 L2320.7,2242.8 L2324.2,2240.7 L2327.5,2238.5 L2330.6,2236.1 L2333.4,2233.3 L2336.0,2230.3 L2338.7,2227.4 L2341.7,2224.9 L2345.1,2222.8 L2348.5,2220.8 L2351.7,2218.5 L2354.5,2215.8 L2357.2,2212.8 L2359.8,2209.8 L2362.2,2206.7 L2364.4,2203.3 L2366.3,2199.8 L2368.1,2196.2 L2369.6,2192.6 L2370.7,2188.8 L2371.5,2184.9 L2372.2,2180.9 L2372.8,2177.0 L2373.5,2173.1 L2374.1,2169.1 L2374.8,2165.2 L2375.6,2161.3 L2376.6,2157.4 L2377.8,2153.6 L2379.1,2149.8 L2380.3,2146.0 L2381.6,2142.2 L2383.0,2138.4 L2384.3,2134.7 L2385.7,2130.9 L2387.1,2127.2 L2388.5,2123.4 L2389.9,2119.7 L2391.4,2116.0 L2393.0,2112.4 L2395.1,2109.0 L2397.4,2105.8 L2399.8,2102.7 L2401.7,2099.3 L2402.9,2095.6 L2403.8,2091.7 L2404.7,2087.8 L2405.5,2083.9 L2406.3,2079.9 L2407.1,2076.0 L2407.7,2072.1 L2408.4,2068.1 L2409.0,2064.2 L2409.6,2060.2 L2410.2,2056.3 L2410.7,2052.3 L2411.3,2048.4 L2411.9,2044.4 L2412.5,2040.4 L2413.0,2036.5 L2413.5,2032.5 L2414.0,2028.5 L2414.5,2024.6 L2415.0,2020.6 L2415.5,2016.6 L2415.9,2012.6 L2416.3,2008.7 L2416.6,2004.7 L2416.8,2000.7 L2417.1,1996.7 L2417.4,1992.7 L2417.7,1988.7 L2418.0,1984.7 L2418.3,1980.7 L2418.6,1976.7 L2418.8,1972.8 L2419.1,1968.8 L2419.5,1964.8 L2419.9,1960.8 L2420.3,1956.8 L2420.8,1952.9 L2421.3,1948.9 L2421.8,1944.9 L2422.3,1941.0 L2422.7,1937.0 L2423.0,1933.0 L2423.2,1929.0 L2423.4,1925.0 L2423.5,1921.0 L2423.7,1917.0 L2423.8,1913.0 L2424.0,1909.0 L2424.2,1905.0 L2424.6,1901.0 L2425.0,1897.1 L2425.4,1893.1 L2425.8,1889.1 L2426.2,1885.1 L2426.6,1881.1 L2427.0,1877.2 L2427.4,1873.2 L2427.8,1869.2 L2428.2,1865.2 L2428.6,1861.2 L2429.0,1857.3 L2429.4,1853.3 L2429.8,1849.3 L2430.2,1845.3 L2430.6,1841.3 L2431.0,1837.4 L2431.4,1833.4 L2431.7,1829.4 L2431.9,1825.4 L2432.0,1821.4 L2432.1,1817.4 L2432.3,1813.4 L2432.4,1809.4 L2432.5,1805.4 L2432.6,1801.4 L2433.0,1797.5 L2433.6,1793.5 L2434.4,1789.6 L2435.3,1785.7 L2436.2,1781.8 L2437.1,1777.9 L2438.0,1774.0 L2439.0,1770.1 L2440.0,1766.3 L2441.4,1762.6 L2443.0,1758.9 L2444.6,1755.2 L2446.3,1751.6 L2447.9,1748.0 L2449.6,1744.3 L2451.2,1740.7 L2452.7,1737.0 L2453.8,1733.2 L2454.5,1729.3 L2455.1,1725.3 L2455.7,1721.4 L2456.3,1717.4 L2456.8,1713.4 L2457.2,1709.5 L2457.3,1705.5 L2457.4,1701.5 L2457.5,1697.5 L2457.5,1693.5 L2457.6,1689.5 L2457.6,1685.5 L2457.7,1681.5 L2457.7,1677.5 L2457.8,1673.5 L2457.8,1669.5 L2457.9,1665.5 L2458.0,1661.5 L2458.0,1657.5 L2458.1,1653.5 L2458.1,1649.5 L2458.2,1645.5 L2458.2,1641.5 L2458.3,1637.5 L2458.3,1633.5 L2458.4,1629.5 L2458.4,1625.5 L2458.5,1621.5 L2458.5,1617.5 L2458.6,1613.5 L2458.7,1609.5 L2458.9,1605.5 L2459.0,1601.5 L2459.2,1597.5 L2459.3,1593.5 L2459.5,1589.5 L2459.6,1585.5 L2459.8,1581.6 L2459.8,1581.6" fill="none" stroke="#3d3b92" stroke-width="3.5" stroke-linejoin="round" stroke-linecap="round"/>
<path d="M2459.8,1581.6 L2505.4,1581.6 L2506.6,1509.0 L2512.8,1501.6 L2514.0,1460.9" fill="none" stroke="#3d3b92" stroke-width="3.5" stroke-linejoin="round" stroke-linecap="round"/>
<path d="M1206.8,2392.6 L1210.8,2392.1 L1214.7,2391.6 L1218.7,2391.1 L1222.7,2390.6 L1226.6,2390.1 L1230.6,2389.6 L1234.6,2389.2 L1238.6,2388.7 L1242.5,2388.3 L1246.5,2387.9 L1250.5,2387.5 L1254.5,2387.2 L1258.5,2386.8 L1262.4,2386.4 L1266.4,2385.9 L1270.4,2385.3 L1274.3,2384.5 L1278.2,2383.8 L1282.2,2383.5 L1286.2,2383.3 L1290.2,2383.2 L1294.2,2383.1 L1298.2,2383.0 L1302.2,2382.9 L1306.2,2382.8 L1310.2,2382.6 L1314.2,2382.5 L1318.2,2382.4 L1322.2,2382.3 L1326.2,2382.2 L1330.2,2382.1 L1334.2,2382.0 L1338.2,2381.9 L1342.2,2381.8 L1346.2,2381.6 L1350.2,2381.5 L1354.2,2381.4 L1358.1,2381.2 L1362.1,2380.8 L1366.1,2380.3 L1370.0,2379.7 L1374.0,2379.2 L1378.0,2378.6 L1381.9,2378.1 L1385.9,2377.5 L1389.9,2376.9 L1393.8,2376.4 L1397.8,2375.9 L1401.8,2375.6 L1405.8,2375.5 L1409.8,2375.5 L1413.8,2375.5 L1417.8,2375.4 L1421.8,2375.4 L1425.8,2375.4 L1429.8,2375.3 L1433.8,2375.3 L1437.8,2375.3 L1441.8,2375.2 L1445.8,2375.2 L1449.8,2375.2 L1453.8,2375.1 L1457.8,2375.1 L1461.8,2375.1 L1465.8,2375.0 L1469.8,2375.0 L1473.8,2375.0 L1477.8,2374.9 L1481.8,2374.9 L1485.8,2374.9 L1489.8,2374.8 L1493.8,2374.8 L1497.8,2374.8 L1501.8,2374.7 L1505.8,2374.7 L1509.8,2374.7 L1513.8,2374.6 L1517.8,2374.6 L1521.8,2374.6 L1525.8,2374.5 L1529.7,2374.3 L1533.7,2374.0 L1537.7,2373.7 L1541.7,2373.4 L1545.7,2373.4 L1549.7,2373.3 L1553.7,2373.3 L1557.7,2373.3 L1561.7,2373.3 L1565.7,2373.2 L1569.7,2373.2 L1573.7,2373.2 L1577.7,2373.1 L1581.7,2373.1 L1585.7,2373.1 L1589.7,2373.1 L1593.7,2373.0 L1597.7,2373.0 L1601.7,2373.0 L1605.7,2373.0 L1609.7,2372.9 L1613.7,2372.9 L1617.7,2372.9 L1621.7,2372.9 L1625.7,2372.8 L1629.7,2372.8 L1633.7,2372.8 L1637.7,2372.7 L1641.7,2372.7 L1645.7,2372.7 L1649.7,2372.7 L1653.7,2372.6 L1657.7,2372.6 L1661.7,2372.6 L1665.7,2372.6 L1669.7,2372.5 L1673.7,2372.5 L1677.7,2372.5 L1681.7,2372.5 L1685.7,2372.4 L1689.7,2372.4 L1693.7,2372.4 L1697.7,2372.3 L1701.7,2372.3 L1705.7,2372.3 L1709.7,2372.3 L1713.7,2372.2 L1717.7,2372.2 L1721.7,2372.2 L1725.7,2372.2 L1729.7,2372.2 L1733.7,2372.2 L1737.7,2372.2 L1741.7,2372.3 L1745.7,2372.3 L1749.7,2372.3 L1753.7,2372.3 L1757.7,2372.3 L1761.7,2372.3 L1765.7,2372.3 L1769.7,2372.3 L1773.7,2372.3 L1777.7,2372.4 L1781.7,2372.4 L1785.7,2372.4 L1789.7,2372.4 L1793.7,2372.4 L1797.7,2372.4 L1801.7,2372.4 L1805.7,2372.4 L1809.7,2372.4 L1813.7,2372.4 L1817.7,2372.5 L1821.7,2372.5 L1825.7,2372.5 L1829.7,2372.5 L1833.7,2372.5 L1837.7,2372.5 L1841.7,2372.5 L1845.7,2372.5 L1849.7,2372.5 L1853.7,2372.5 L1857.7,2372.6 L1861.7,2372.6 L1865.7,2372.6 L1869.7,2372.6 L1873.7,2372.6 L1877.7,2372.6 L1881.7,2372.6 L1885.7,2372.6 L1889.7,2372.6 L1893.7,2372.7 L1897.7,2372.7 L1901.7,2372.7 L1905.7,2372.7 L1909.7,2372.7 L1913.7,2372.7 L1917.7,2372.7 L1921.7,2372.7 L1925.7,2372.7 L1929.7,2372.7 L1933.7,2372.8 L1937.7,2372.8 L1941.7,2372.8 L1945.7,2372.8 L1949.7,2372.8 L1953.7,2372.7 L1957.7,2372.6 L1961.7,2372.6 L1965.7,2372.5 L1969.7,2372.4 L1973.7,2372.3 L1977.7,2372.3 L1981.7,2372.2 L1985.7,2372.1 L1989.7,2372.0 L1993.7,2371.9 L1997.7,2371.9 L2001.7,2371.8 L2005.7,2371.7 L2009.7,2371.6 L2013.7,2371.6 L2017.7,2371.5 L2021.7,2371.4 L2025.7,2371.3 L2029.7,2371.2 L2033.7,2371.2 L2037.7,2371.1 L2041.7,2371.0 L2045.7,2370.9 L2049.7,2370.8 L2053.7,2370.8 L2057.7,2370.7 L2061.7,2370.6 L2065.7,2370.5 L2069.7,2370.5 L2073.7,2370.4 L2077.7,2370.3 L2081.7,2370.2 L2085.7,2370.1 L2089.7,2370.1 L2093.7,2370.0 L2097.7,2369.9 L2101.7,2369.8 L2105.7,2369.7 L2109.7,2369.7 L2113.7,2369.6 L2117.7,2369.5 L2121.7,2369.4 L2125.7,2369.4 L2129.7,2369.3 L2133.7,2369.2 L2137.7,2369.1 L2141.7,2369.0 L2145.7,2369.0 L2149.7,2368.9 L2153.7,2368.8 L2157.7,2368.7 L2161.7,2368.6 L2165.7,2368.5 L2169.7,2368.4 L2173.7,2368.2 L2177.6,2368.1 L2181.6,2368.0 L2185.6,2367.9 L2189.6,2367.8 L2193.6,2367.7 L2197.6,2367.6 L2201.6,2367.4 L2205.6,2367.3 L2209.6,2367.2 L2213.6,2367.1 L2217.6,2367.0 L2221.6,2366.9 L2225.6,2366.8 L2229.6,2366.7 L2233.6,2366.5 L2237.6,2366.4 L2241.6,2366.3 L2245.6,2366.2 L2249.6,2366.1 L2253.6,2366.0 L2257.6,2365.9 L2261.6,2365.7 L2265.6,2365.6 L2269.6,2365.5 L2273.6,2365.4 L2277.6,2365.3 L2281.6,2365.2 L2285.6,2365.1 L2289.6,2364.9 L2293.6,2364.8 L2297.6,2364.7 L2301.6,2364.6 L2305.6,2364.5 L2309.6,2364.3 L2313.6,2364.2 L2317.6,2364.1 L2321.6,2364.0 L2325.6,2363.8 L2329.6,2363.5 L2333.5,2362.8 L2337.4,2361.9 L2341.2,2360.9 L2345.1,2359.9 L2349.0,2358.9 L2352.9,2358.0 L2356.8,2357.0 L2360.6,2356.0 L2364.4,2354.8 L2368.0,2353.1 L2371.4,2351.0 L2374.8,2348.9 L2378.3,2346.9 L2381.9,2345.3 L2385.6,2343.9 L2389.4,2342.5 L2393.2,2341.2 L2396.9,2339.8 L2400.6,2338.4 L2404.0,2336.5 L2406.9,2333.8 L2409.6,2330.8 L2412.2,2327.9 L2414.9,2324.8 L2417.2,2321.7 L2418.9,2318.1 L2420.2,2314.4 L2421.5,2310.6 L2422.7,2306.8 L2424.0,2303.0 L2425.1,2299.1 L2426.1,2295.3 L2427.1,2291.4 L2428.0,2287.5 L2429.0,2283.6 L2430.0,2279.7 L2431.0,2275.9 L2432.7,2272.6 L2435.6,2270.0 L2438.8,2267.8 L2442.1,2265.5 L2445.4,2263.2 L2448.7,2260.9 L2451.8,2258.6 L2454.6,2256.6 L2454.6,2256.6" fill="none" stroke="#dc2459" stroke-width="3.5" stroke-linejoin="round" stroke-linecap="round"/>
<path d="M2454.6,2256.6 L2458.2,2188.1 L2505.6,2186.4 L2507.3,2112.7" fill="none" stroke="#dc2459" stroke-width="3.5" stroke-linejoin="round" stroke-linecap="round"/>
<line x1="1703.4" y1="2107.0" x2="1703.4" y2="1878.0" stroke="#d8285a" stroke-width="4" stroke-dasharray="28,7,5,8"/>
<line x1="2027.6" y1="1941.0" x2="2027.6" y2="1834.0" stroke="#d8285a" stroke-width="4" stroke-dasharray="28,7,5,8"/>
<line x1="2373.6" y1="1934.0" x2="2373.6" y2="1545.0" stroke="#d8285a" stroke-width="4" stroke-dasharray="28,7,5,8"/>
<line x1="2459.8" y1="1934.0" x2="2459.8" y2="1511.0" stroke="#d8285a" stroke-width="4" stroke-dasharray="28,7,5,8"/>
<path d="M1205.7,2394.9 L1207.5,2391.4 L1209.4,2387.9 L1211.4,2384.5 L1213.6,2381.3 L1215.9,2378.4 L1218.6,2375.8 L1221.6,2373.5 L1224.9,2371.5 L1228.3,2369.9 L1232.0,2368.4 L1235.7,2367.1 L1239.5,2365.9 L1243.4,2364.9 L1247.2,2363.8 L1251.1,2362.8 L1254.9,2361.7 L1258.7,2360.5 L1262.6,2359.4 L1266.4,2358.1 L1270.1,2356.8 L1273.9,2355.5 L1277.7,2354.2 L1281.5,2352.9 L1285.2,2351.5 L1289.0,2350.2 L1292.8,2348.9 L1296.6,2347.6 L1300.3,2346.2 L1304.1,2344.9 L1307.9,2343.6 L1311.7,2342.2 L1315.4,2340.9 L1319.2,2339.6 L1323.0,2338.2 L1326.7,2336.9 L1330.5,2335.5 L1334.2,2334.0 L1337.9,2332.6 L1341.6,2331.0 L1345.3,2329.4 L1348.9,2327.8 L1352.6,2326.2 L1356.2,2324.6 L1359.9,2322.9 L1363.5,2321.3 L1367.2,2319.6 L1370.8,2318.0 L1374.5,2316.3 L1378.1,2314.6 L1381.7,2312.9 L1385.3,2311.2 L1388.9,2309.5 L1392.5,2307.7 L1396.1,2305.9 L1399.6,2304.1 L1403.2,2302.3 L1406.8,2300.5 L1410.4,2298.8 L1414.0,2297.0 L1417.5,2295.1 L1421.1,2293.3 L1424.6,2291.4 L1428.1,2289.6 L1431.6,2287.6 L1435.1,2285.7 L1438.6,2283.7 L1442.1,2281.7 L1445.5,2279.7 L1449.0,2277.7 L1452.5,2275.7 L1455.9,2273.7 L1459.4,2271.7 L1462.9,2269.7 L1466.3,2267.7 L1469.7,2265.6 L1473.1,2263.5 L1476.5,2261.3 L1479.8,2259.1 L1483.1,2256.9 L1486.5,2254.7 L1489.8,2252.4 L1493.1,2250.2 L1496.4,2247.9 L1499.7,2245.7 L1503.0,2243.4 L1506.3,2241.2 L1509.6,2239.0 L1512.9,2236.7 L1516.2,2234.5 L1519.6,2232.2 L1522.9,2230.0 L1526.2,2227.8 L1529.6,2225.7 L1533.0,2223.6 L1536.4,2221.4 L1539.8,2219.4 L1543.2,2217.3 L1546.7,2215.2 L1550.1,2213.2 L1553.5,2211.1 L1556.9,2209.0 L1560.4,2207.0 L1563.8,2204.9 L1567.2,2202.8 L1570.6,2200.7 L1574.0,2198.6 L1577.4,2196.5 L1580.8,2194.4 L1584.1,2192.2 L1587.5,2190.0 L1590.9,2187.8 L1594.2,2185.7 L1597.6,2183.5 L1600.9,2181.3 L1604.3,2179.1 L1607.6,2176.9 L1611.0,2174.7 L1614.3,2172.5 L1617.6,2170.3 L1620.9,2168.1 L1624.2,2165.8 L1627.5,2163.6 L1630.8,2161.3 L1634.1,2159.0 L1637.4,2156.7 L1640.7,2154.4 L1643.9,2152.1 L1647.2,2149.8 L1650.5,2147.5 L1653.8,2145.2 L1657.0,2142.9 L1660.3,2140.6 L1663.5,2138.3 L1666.8,2135.9 L1670.0,2133.5 L1673.2,2131.2 L1676.4,2128.8 L1679.6,2126.4 L1682.8,2124.0 L1686.0,2121.6 L1689.2,2119.2 L1692.4,2116.8 L1695.6,2114.3 L1698.8,2111.9 L1702.0,2109.5 L1705.2,2107.1 L1708.4,2104.7 L1711.6,2102.3 L1714.8,2099.9 L1718.0,2097.5 L1721.1,2095.1 L1724.3,2092.7 L1727.5,2090.3 L1730.7,2087.9 L1733.9,2085.5 L1737.1,2083.0 L1740.3,2080.6 L1743.5,2078.2 L1746.7,2075.8 L1749.9,2073.4 L1753.1,2071.0 L1756.3,2068.6 L1759.5,2066.2 L1762.7,2063.8 L1765.9,2061.4 L1769.0,2058.9 L1772.2,2056.5 L1775.4,2054.1 L1778.6,2051.7 L1781.7,2049.2 L1784.9,2046.7 L1788.0,2044.3 L1791.2,2041.8 L1794.3,2039.3 L1797.4,2036.8 L1800.5,2034.3 L1803.7,2031.8 L1806.8,2029.3 L1809.9,2026.8 L1813.0,2024.3 L1816.1,2021.8 L1819.2,2019.3 L1822.3,2016.7 L1825.4,2014.1 L1828.5,2011.6 L1831.5,2009.0 L1834.5,2006.3 L1837.5,2003.7 L1840.5,2001.1 L1843.6,1998.5 L1846.6,1995.8 L1849.6,1993.2 L1852.6,1990.6 L1855.6,1987.9 L1858.6,1985.3 L1861.6,1982.7 L1864.6,1980.0 L1867.7,1977.4 L1870.7,1974.8 L1873.7,1972.1 L1876.7,1969.5 L1879.7,1966.9 L1882.7,1964.2 L1885.7,1961.6 L1888.7,1958.9 L1891.7,1956.3 L1894.7,1953.7 L1897.7,1951.0 L1900.7,1948.4 L1903.7,1945.7 L1906.7,1943.1 L1909.7,1940.4 L1912.7,1937.7 L1915.6,1935.1 L1918.6,1932.4 L1921.5,1929.6 L1924.5,1926.9 L1927.4,1924.2 L1930.3,1921.5 L1933.2,1918.8 L1936.2,1916.0 L1939.1,1913.3 L1942.1,1910.6 L1945.0,1907.9 L1948.0,1905.2 L1950.9,1902.5 L1953.9,1899.8 L1956.9,1897.2 L1959.8,1894.5 L1962.8,1891.8 L1965.8,1889.1 L1968.8,1886.5 L1971.8,1883.8 L1974.7,1881.1 L1977.7,1878.5 L1980.7,1875.8 L1983.7,1873.1 L1986.7,1870.5 L1989.6,1867.8 L1992.6,1865.1 L1995.6,1862.5 L1998.6,1859.8 L2001.6,1857.1 L2004.5,1854.5 L2007.5,1851.8 L2010.5,1849.1 L2013.5,1846.5 L2016.5,1843.8 L2019.4,1841.1 L2022.4,1838.4 L2025.3,1835.7 L2028.3,1833.0 L2031.2,1830.3 L2034.2,1827.6 L2037.1,1824.9 L2040.0,1822.1 L2042.9,1819.4 L2045.8,1816.6 L2048.7,1813.9 L2051.6,1811.1 L2054.5,1808.3 L2057.4,1805.6 L2060.3,1802.8 L2063.2,1800.1 L2066.1,1797.3 L2069.0,1794.6 L2071.9,1791.9 L2074.9,1789.1 L2077.8,1786.5 L2080.8,1783.8 L2083.8,1781.2 L2086.9,1778.6 L2089.9,1776.0 L2093.0,1773.4 L2096.0,1770.8 L2099.1,1768.2 L2102.1,1765.7 L2105.2,1763.1 L2108.3,1760.5 L2111.3,1757.9 L2114.4,1755.3 L2117.4,1752.7 L2120.4,1750.1 L2123.4,1747.5 L2126.4,1744.8 L2129.4,1742.1 L2132.3,1739.4 L2135.2,1736.7 L2138.1,1733.9 L2140.9,1731.1 L2143.7,1728.2 L2146.6,1725.4 L2149.4,1722.6 L2152.2,1719.8 L2155.1,1716.9 L2157.9,1714.1 L2160.8,1711.4 L2163.7,1708.6 L2166.6,1705.9 L2169.6,1703.2 L2172.6,1700.6 L2175.6,1698.0 L2178.7,1695.4 L2181.7,1692.8 L2184.8,1690.2 L2187.9,1687.7 L2190.9,1685.1 L2194.0,1682.5 L2197.1,1680.0 L2200.2,1677.4 L2203.2,1674.9 L2206.3,1672.3 L2209.4,1669.8 L2212.5,1667.3 L2215.7,1664.8 L2218.8,1662.4 L2222.0,1659.9 L2225.2,1657.5 L2228.3,1655.0 L2231.5,1652.6 L2234.6,1650.1 L2237.8,1647.7 L2241.0,1645.2 L2244.1,1642.7 L2247.2,1640.2 L2250.3,1637.7 L2253.4,1635.1 L2256.4,1632.6 L2259.5,1630.0 L2262.5,1627.4 L2265.6,1624.8 L2268.6,1622.2 L2271.7,1619.6 L2274.7,1617.0 L2277.7,1614.4 L2280.8,1611.8 L2283.8,1609.2 L2286.9,1606.6 L2290.0,1604.0 L2293.0,1601.5 L2296.1,1598.9 L2299.2,1596.4 L2302.3,1593.9 L2305.5,1591.4 L2308.6,1589.0 L2311.8,1586.5 L2315.0,1584.2 L2318.3,1581.8 L2321.5,1579.6 L2324.8,1577.3 L2328.2,1575.1 L2331.5,1572.8 L2334.8,1570.6 L2338.1,1568.4 L2341.4,1566.1 L2344.7,1563.8 L2348.0,1561.6 L2351.3,1559.3 L2354.6,1557.1 L2357.9,1554.9 L2361.3,1552.6 L2364.6,1550.4 L2367.9,1548.2 L2371.3,1546.0 L2374.6,1543.8 L2377.9,1541.5 L2381.2,1539.3 L2384.5,1537.1 L2387.9,1534.9 L2391.3,1532.8 L2394.7,1530.8 L2398.2,1528.9 L2401.7,1527.0 L2405.3,1525.2 L2408.9,1523.6 L2412.6,1522.1 L2416.3,1520.7 L2420.1,1519.5 L2423.9,1518.4 L2427.8,1517.4 L2431.7,1516.5 L2435.6,1515.6 L2439.4,1514.9 L2443.3,1514.1 L2447.1,1513.5 L2450.9,1512.8 L2454.5,1512.2 L2458.0,1511.7 L2459.8,1511.4" fill="none" stroke="#111111" stroke-width="4.5" stroke-linejoin="round" stroke-linecap="round"/>
<path d="M2459.8,1511.4 C2464.3,1513.9 2469.7,1514.2 2473.4,1518.8 C2479.4,1526.3 2480.7,1545.1 2484.4,1558.2" fill="none" stroke="#111111" stroke-width="4.5" stroke-linejoin="round" stroke-linecap="round"/>
<path d="M2484.4,1558.2 L2486.9,1632.1 L2493.0,1629.7 L2501.7,1646.9 L2507.8,1659.2 L2512.8,1676.5 L2512.8,2397.0" fill="none" stroke="#111111" stroke-width="4.5" stroke-linejoin="round" stroke-linecap="round"/>
<circle cx="1702.3" cy="2108.5" r="12.25" fill="#e3323e" stroke="#111111" stroke-width="3.5"/>
<circle cx="2028.0" cy="1833.5" r="12.25" fill="#e3323e" stroke="#111111" stroke-width="3.5"/>
<circle cx="2373.6" cy="1544.7" r="12.25" fill="#e3323e" stroke="#111111" stroke-width="3.5"/>
<circle cx="2459.8" cy="1511.4" r="12.25" fill="#e3323e" stroke="#111111" stroke-width="3.5"/>
<circle cx="2507.8" cy="1659.2" r="12.25" fill="#e3323e" stroke="#111111" stroke-width="3.5"/>
<text x="1626.7" y="2098.1" font-size="66" text-anchor="start" font-style="italic">A</text>
<text x="1958.9" y="1835.9" font-size="66" text-anchor="start" font-style="italic">B</text>
<text x="2303.4" y="1532.4" font-size="66" text-anchor="start" font-style="italic">C</text>
<text x="2417.4" y="1493.0" font-size="66" text-anchor="start" font-style="italic">D</text>
<text x="2524.0" y="1635.2" font-size="66" text-anchor="start" font-style="italic">E</text>
</svg></body></html>
